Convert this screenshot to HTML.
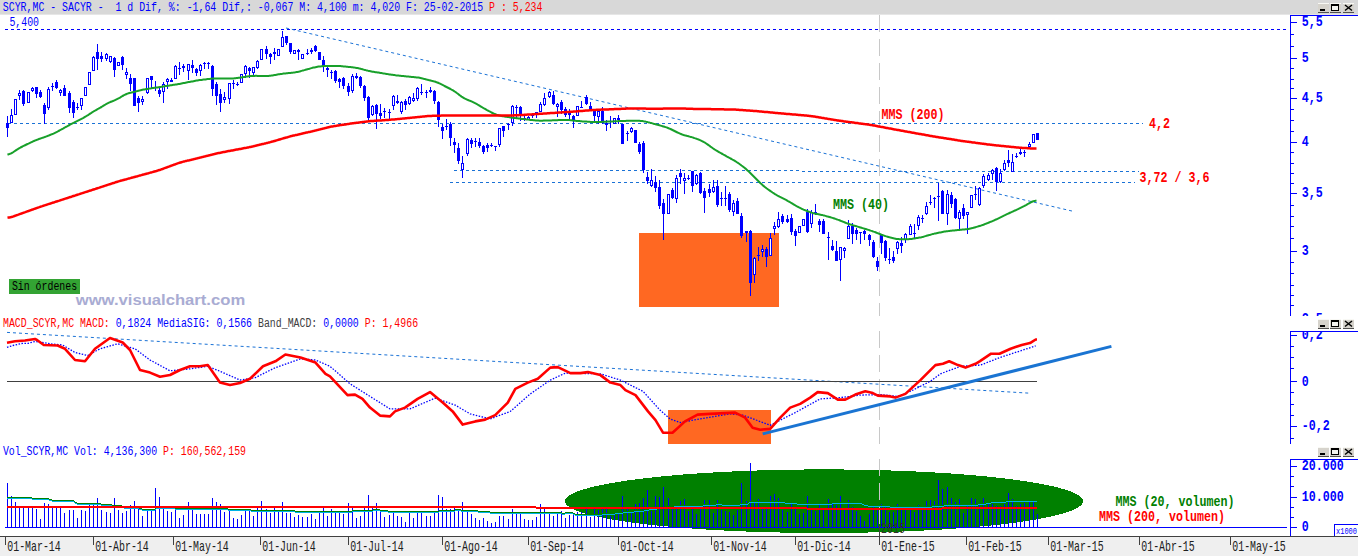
<!DOCTYPE html>
<html><head><meta charset="utf-8"><style>html,body{margin:0;padding:0;background:#fff;overflow:hidden}</style></head><body>
<svg width="1358" height="556" viewBox="0 0 1358 556" shape-rendering="crispEdges" style="display:block">
<rect x="0" y="0" width="1358" height="556" fill="#ffffff"/>
<rect x="0" y="0" width="1358" height="14" fill="#d8d8d8"/>
<rect x="0" y="14" width="1358" height="1" fill="#e6e6e6"/>
<line x1="879.5" y1="15" x2="879.5" y2="316" stroke="#c8c8c8" stroke-width="1" stroke-dasharray="17 7"/>
<line x1="879.5" y1="331" x2="879.5" y2="444" stroke="#c8c8c8" stroke-width="1" stroke-dasharray="17 7"/>
<rect x="639" y="233" width="140" height="74" fill="#ff6822"/>
<line x1="5" y1="29.5" x2="1287" y2="29.5" stroke="#0000ff" stroke-width="1" stroke-dasharray="3 3"/>
<line x1="8" y1="123.5" x2="1143" y2="123.5" stroke="#1a72d6" stroke-width="1" stroke-dasharray="3 3"/>
<line x1="454" y1="170.5" x2="1139" y2="171.5" stroke="#1a72d6" stroke-width="1" stroke-dasharray="3 3"/>
<line x1="450" y1="182.5" x2="1135" y2="182.5" stroke="#1a72d6" stroke-width="1" stroke-dasharray="3 3"/>
<line x1="286" y1="28" x2="1074" y2="211.5" stroke="#1a72d6" stroke-width="1" stroke-dasharray="3 3" shape-rendering="auto"/>
<g fill="#0000ff"><rect x="7" y="116" width="1" height="21"/><rect x="6" y="123" width="3" height="5"/><rect x="11" y="109" width="1" height="14"/><rect x="10" y="115" width="3" height="8"/><rect x="11" y="116" width="1" height="6" fill="#ffffff"/><rect x="15" y="99" width="1" height="16"/><rect x="14" y="99" width="3" height="16"/><rect x="15" y="100" width="1" height="14" fill="#ffffff"/><rect x="19" y="90" width="1" height="10"/><rect x="18" y="93" width="3" height="3"/><rect x="19" y="94" width="1" height="1" fill="#ffffff"/><rect x="23" y="90" width="1" height="16"/><rect x="22" y="91" width="3" height="13"/><rect x="28" y="92" width="1" height="11"/><rect x="27" y="92" width="3" height="11"/><rect x="28" y="93" width="1" height="9" fill="#ffffff"/><rect x="32" y="87" width="1" height="5"/><rect x="31" y="88" width="3" height="3"/><rect x="32" y="89" width="1" height="1" fill="#ffffff"/><rect x="36" y="87" width="1" height="11"/><rect x="35" y="87" width="3" height="7"/><rect x="40" y="90" width="1" height="8"/><rect x="39" y="92" width="3" height="5"/><rect x="44" y="103" width="1" height="21"/><rect x="43" y="105" width="3" height="9"/><rect x="48" y="87" width="1" height="23"/><rect x="47" y="89" width="3" height="19"/><rect x="48" y="90" width="1" height="17" fill="#ffffff"/><rect x="52" y="83" width="1" height="8"/><rect x="51" y="86" width="3" height="1"/><rect x="56" y="80" width="1" height="9"/><rect x="55" y="82" width="3" height="6"/><rect x="60" y="89" width="1" height="7"/><rect x="59" y="90" width="3" height="3"/><rect x="60" y="91" width="1" height="1" fill="#ffffff"/><rect x="64" y="85" width="1" height="11"/><rect x="63" y="88" width="3" height="8"/><rect x="69" y="91" width="1" height="22"/><rect x="68" y="93" width="3" height="15"/><rect x="73" y="100" width="1" height="18"/><rect x="72" y="102" width="3" height="11"/><rect x="77" y="103" width="1" height="7"/><rect x="76" y="107" width="3" height="1"/><rect x="81" y="98" width="1" height="12"/><rect x="80" y="98" width="3" height="8"/><rect x="81" y="99" width="1" height="6" fill="#ffffff"/><rect x="85" y="87" width="1" height="9"/><rect x="84" y="87" width="3" height="9"/><rect x="85" y="88" width="1" height="7" fill="#ffffff"/><rect x="89" y="72" width="1" height="13"/><rect x="88" y="72" width="3" height="13"/><rect x="89" y="73" width="1" height="11" fill="#ffffff"/><rect x="93" y="56" width="1" height="15"/><rect x="92" y="57" width="3" height="14"/><rect x="93" y="58" width="1" height="12" fill="#ffffff"/><rect x="97" y="44" width="1" height="26"/><rect x="96" y="52" width="3" height="7"/><rect x="101" y="52" width="1" height="10"/><rect x="100" y="56" width="3" height="3"/><rect x="106" y="53" width="1" height="8"/><rect x="105" y="54" width="3" height="5"/><rect x="106" y="55" width="1" height="3" fill="#ffffff"/><rect x="110" y="56" width="1" height="7"/><rect x="109" y="56" width="3" height="6"/><rect x="110" y="57" width="1" height="4" fill="#ffffff"/><rect x="114" y="57" width="1" height="20"/><rect x="113" y="58" width="3" height="12"/><rect x="118" y="62" width="1" height="4"/><rect x="117" y="62" width="3" height="4"/><rect x="118" y="63" width="1" height="2" fill="#ffffff"/><rect x="122" y="56" width="1" height="14"/><rect x="121" y="57" width="3" height="8"/><rect x="126" y="68" width="1" height="11"/><rect x="125" y="72" width="3" height="3"/><rect x="126" y="73" width="1" height="1" fill="#ffffff"/><rect x="130" y="74" width="1" height="17"/><rect x="129" y="78" width="3" height="6"/><rect x="134" y="78" width="1" height="28"/><rect x="133" y="78" width="3" height="28"/><rect x="138" y="96" width="1" height="16"/><rect x="137" y="98" width="3" height="5"/><rect x="142" y="96" width="1" height="9"/><rect x="141" y="99" width="3" height="3"/><rect x="142" y="100" width="1" height="1" fill="#ffffff"/><rect x="147" y="78" width="1" height="16"/><rect x="146" y="78" width="3" height="15"/><rect x="147" y="79" width="1" height="13" fill="#ffffff"/><rect x="151" y="76" width="1" height="12"/><rect x="150" y="76" width="3" height="4"/><rect x="155" y="81" width="1" height="10"/><rect x="154" y="87" width="3" height="1"/><rect x="159" y="88" width="1" height="9"/><rect x="158" y="90" width="3" height="4"/><rect x="163" y="82" width="1" height="21"/><rect x="162" y="84" width="3" height="8"/><rect x="163" y="85" width="1" height="6" fill="#ffffff"/><rect x="167" y="78" width="1" height="11"/><rect x="166" y="79" width="3" height="3"/><rect x="167" y="80" width="1" height="1" fill="#ffffff"/><rect x="171" y="78" width="1" height="4"/><rect x="170" y="80" width="3" height="2"/><rect x="175" y="65" width="1" height="14"/><rect x="174" y="66" width="3" height="13"/><rect x="175" y="67" width="1" height="11" fill="#ffffff"/><rect x="179" y="62" width="1" height="13"/><rect x="178" y="68" width="3" height="1"/><rect x="183" y="64" width="1" height="8"/><rect x="182" y="66" width="3" height="2"/><rect x="188" y="64" width="1" height="16"/><rect x="187" y="64" width="3" height="7"/><rect x="188" y="65" width="1" height="5" fill="#ffffff"/><rect x="192" y="60" width="1" height="13"/><rect x="191" y="65" width="3" height="3"/><rect x="196" y="68" width="1" height="8"/><rect x="195" y="69" width="3" height="4"/><rect x="200" y="64" width="1" height="12"/><rect x="199" y="65" width="3" height="6"/><rect x="200" y="66" width="1" height="4" fill="#ffffff"/><rect x="204" y="62" width="1" height="7"/><rect x="203" y="63" width="3" height="1"/><rect x="208" y="62" width="1" height="7"/><rect x="207" y="63" width="3" height="1"/><rect x="212" y="65" width="1" height="31"/><rect x="211" y="66" width="3" height="23"/><rect x="216" y="82" width="1" height="23"/><rect x="215" y="84" width="3" height="12"/><rect x="220" y="89" width="1" height="23"/><rect x="219" y="94" width="3" height="9"/><rect x="224" y="92" width="1" height="11"/><rect x="223" y="97" width="3" height="3"/><rect x="224" y="98" width="1" height="1" fill="#ffffff"/><rect x="229" y="83" width="1" height="21"/><rect x="228" y="83" width="3" height="16"/><rect x="229" y="84" width="1" height="14" fill="#ffffff"/><rect x="233" y="80" width="1" height="9"/><rect x="232" y="83" width="3" height="1"/><rect x="237" y="82" width="1" height="4"/><rect x="236" y="84" width="3" height="1"/><rect x="241" y="74" width="1" height="9"/><rect x="240" y="74" width="3" height="9"/><rect x="241" y="75" width="1" height="7" fill="#ffffff"/><rect x="245" y="65" width="1" height="13"/><rect x="244" y="66" width="3" height="8"/><rect x="245" y="67" width="1" height="6" fill="#ffffff"/><rect x="249" y="67" width="1" height="11"/><rect x="248" y="68" width="3" height="3"/><rect x="253" y="67" width="1" height="8"/><rect x="252" y="67" width="3" height="6"/><rect x="253" y="68" width="1" height="4" fill="#ffffff"/><rect x="257" y="60" width="1" height="9"/><rect x="256" y="61" width="3" height="7"/><rect x="257" y="62" width="1" height="5" fill="#ffffff"/><rect x="261" y="49" width="1" height="11"/><rect x="260" y="49" width="3" height="11"/><rect x="261" y="50" width="1" height="9" fill="#ffffff"/><rect x="266" y="46" width="1" height="13"/><rect x="265" y="49" width="3" height="5"/><rect x="270" y="53" width="1" height="11"/><rect x="269" y="54" width="3" height="3"/><rect x="274" y="48" width="1" height="12"/><rect x="273" y="52" width="3" height="2"/><rect x="278" y="49" width="1" height="7"/><rect x="277" y="49" width="3" height="7"/><rect x="278" y="50" width="1" height="5" fill="#ffffff"/><rect x="282" y="31" width="1" height="16"/><rect x="281" y="37" width="3" height="10"/><rect x="282" y="38" width="1" height="8" fill="#ffffff"/><rect x="286" y="36" width="1" height="9"/><rect x="285" y="36" width="3" height="7"/><rect x="290" y="43" width="1" height="11"/><rect x="289" y="43" width="3" height="9"/><rect x="294" y="50" width="1" height="4"/><rect x="293" y="50" width="3" height="4"/><rect x="294" y="51" width="1" height="2" fill="#ffffff"/><rect x="298" y="49" width="1" height="11"/><rect x="297" y="50" width="3" height="2"/><rect x="302" y="54" width="1" height="5"/><rect x="301" y="54" width="3" height="5"/><rect x="302" y="55" width="1" height="3" fill="#ffffff"/><rect x="307" y="49" width="1" height="6"/><rect x="306" y="53" width="3" height="1"/><rect x="311" y="48" width="1" height="6"/><rect x="310" y="50" width="3" height="2"/><rect x="315" y="45" width="1" height="7"/><rect x="314" y="46" width="3" height="5"/><rect x="319" y="52" width="1" height="8"/><rect x="318" y="52" width="3" height="8"/><rect x="323" y="56" width="1" height="16"/><rect x="322" y="60" width="3" height="6"/><rect x="327" y="67" width="1" height="10"/><rect x="326" y="68" width="3" height="2"/><rect x="331" y="70" width="1" height="9"/><rect x="330" y="72" width="3" height="1"/><rect x="335" y="70" width="1" height="13"/><rect x="334" y="71" width="3" height="10"/><rect x="339" y="78" width="1" height="10"/><rect x="338" y="79" width="3" height="3"/><rect x="343" y="77" width="1" height="12"/><rect x="342" y="78" width="3" height="8"/><rect x="348" y="83" width="1" height="13"/><rect x="347" y="86" width="3" height="6"/><rect x="352" y="74" width="1" height="19"/><rect x="351" y="76" width="3" height="15"/><rect x="352" y="77" width="1" height="13" fill="#ffffff"/><rect x="356" y="73" width="1" height="6"/><rect x="355" y="76" width="3" height="2"/><rect x="360" y="76" width="1" height="12"/><rect x="359" y="77" width="3" height="9"/><rect x="364" y="85" width="1" height="16"/><rect x="363" y="86" width="3" height="12"/><rect x="368" y="96" width="1" height="24"/><rect x="367" y="97" width="3" height="21"/><rect x="372" y="105" width="1" height="11"/><rect x="371" y="106" width="3" height="9"/><rect x="372" y="107" width="1" height="7" fill="#ffffff"/><rect x="376" y="104" width="1" height="25"/><rect x="375" y="105" width="3" height="9"/><rect x="380" y="104" width="1" height="15"/><rect x="379" y="113" width="3" height="3"/><rect x="384" y="108" width="1" height="10"/><rect x="383" y="111" width="3" height="1"/><rect x="389" y="109" width="1" height="10"/><rect x="388" y="112" width="3" height="1"/><rect x="393" y="95" width="1" height="15"/><rect x="392" y="96" width="3" height="10"/><rect x="393" y="97" width="1" height="8" fill="#ffffff"/><rect x="397" y="95" width="1" height="9"/><rect x="396" y="101" width="3" height="2"/><rect x="401" y="101" width="1" height="13"/><rect x="400" y="102" width="3" height="10"/><rect x="401" y="103" width="1" height="8" fill="#ffffff"/><rect x="405" y="99" width="1" height="11"/><rect x="404" y="101" width="3" height="4"/><rect x="409" y="96" width="1" height="9"/><rect x="408" y="97" width="3" height="7"/><rect x="409" y="98" width="1" height="5" fill="#ffffff"/><rect x="413" y="93" width="1" height="9"/><rect x="412" y="98" width="3" height="3"/><rect x="413" y="99" width="1" height="1" fill="#ffffff"/><rect x="417" y="87" width="1" height="14"/><rect x="416" y="88" width="3" height="11"/><rect x="417" y="89" width="1" height="9" fill="#ffffff"/><rect x="421" y="84" width="1" height="11"/><rect x="420" y="92" width="3" height="1"/><rect x="426" y="90" width="1" height="8"/><rect x="425" y="92" width="3" height="1"/><rect x="430" y="87" width="1" height="6"/><rect x="429" y="90" width="3" height="2"/><rect x="434" y="90" width="1" height="14"/><rect x="433" y="91" width="3" height="10"/><rect x="438" y="101" width="1" height="26"/><rect x="437" y="102" width="3" height="18"/><rect x="442" y="124" width="1" height="15"/><rect x="441" y="127" width="3" height="4"/><rect x="446" y="119" width="1" height="11"/><rect x="445" y="126" width="3" height="1"/><rect x="450" y="122" width="1" height="24"/><rect x="449" y="124" width="3" height="14"/><rect x="454" y="138" width="1" height="15"/><rect x="453" y="142" width="3" height="3"/><rect x="458" y="143" width="1" height="21"/><rect x="457" y="148" width="3" height="13"/><rect x="462" y="156" width="1" height="22"/><rect x="461" y="163" width="3" height="7"/><rect x="462" y="164" width="1" height="5" fill="#ffffff"/><rect x="467" y="138" width="1" height="18"/><rect x="466" y="139" width="3" height="15"/><rect x="467" y="140" width="1" height="13" fill="#ffffff"/><rect x="471" y="138" width="1" height="10"/><rect x="470" y="140" width="3" height="4"/><rect x="475" y="138" width="1" height="9"/><rect x="474" y="141" width="3" height="1"/><rect x="479" y="138" width="1" height="10"/><rect x="478" y="142" width="3" height="4"/><rect x="483" y="145" width="1" height="9"/><rect x="482" y="146" width="3" height="6"/><rect x="487" y="143" width="1" height="9"/><rect x="486" y="145" width="3" height="3"/><rect x="491" y="143" width="1" height="4"/><rect x="490" y="145" width="3" height="1"/><rect x="495" y="146" width="1" height="5"/><rect x="494" y="146" width="3" height="1"/><rect x="499" y="128" width="1" height="19"/><rect x="498" y="128" width="3" height="17"/><rect x="499" y="129" width="1" height="15" fill="#ffffff"/><rect x="503" y="126" width="1" height="11"/><rect x="502" y="126" width="3" height="5"/><rect x="508" y="123" width="1" height="7"/><rect x="507" y="124" width="3" height="1"/><rect x="512" y="105" width="1" height="21"/><rect x="511" y="106" width="3" height="17"/><rect x="512" y="107" width="1" height="15" fill="#ffffff"/><rect x="516" y="105" width="1" height="13"/><rect x="515" y="107" width="3" height="1"/><rect x="520" y="106" width="1" height="15"/><rect x="519" y="107" width="3" height="9"/><rect x="524" y="116" width="1" height="5"/><rect x="523" y="118" width="3" height="1"/><rect x="528" y="116" width="1" height="4"/><rect x="527" y="117" width="3" height="3"/><rect x="528" y="118" width="1" height="1" fill="#ffffff"/><rect x="532" y="113" width="1" height="5"/><rect x="531" y="115" width="3" height="1"/><rect x="536" y="112" width="1" height="6"/><rect x="535" y="112" width="3" height="1"/><rect x="540" y="102" width="1" height="10"/><rect x="539" y="104" width="3" height="8"/><rect x="540" y="105" width="1" height="6" fill="#ffffff"/><rect x="544" y="93" width="1" height="13"/><rect x="543" y="98" width="3" height="7"/><rect x="544" y="99" width="1" height="5" fill="#ffffff"/><rect x="549" y="91" width="1" height="7"/><rect x="548" y="92" width="3" height="5"/><rect x="549" y="93" width="1" height="3" fill="#ffffff"/><rect x="553" y="91" width="1" height="14"/><rect x="552" y="95" width="3" height="9"/><rect x="557" y="103" width="1" height="14"/><rect x="556" y="104" width="3" height="3"/><rect x="557" y="105" width="1" height="1" fill="#ffffff"/><rect x="561" y="100" width="1" height="14"/><rect x="560" y="102" width="3" height="8"/><rect x="565" y="107" width="1" height="10"/><rect x="564" y="109" width="3" height="6"/><rect x="569" y="109" width="1" height="10"/><rect x="568" y="113" width="3" height="2"/><rect x="573" y="115" width="1" height="13"/><rect x="572" y="116" width="3" height="4"/><rect x="577" y="106" width="1" height="10"/><rect x="576" y="106" width="3" height="10"/><rect x="577" y="107" width="1" height="8" fill="#ffffff"/><rect x="581" y="101" width="1" height="7"/><rect x="580" y="107" width="3" height="1"/><rect x="586" y="95" width="1" height="10"/><rect x="585" y="97" width="3" height="7"/><rect x="590" y="102" width="1" height="8"/><rect x="589" y="106" width="3" height="3"/><rect x="594" y="110" width="1" height="11"/><rect x="593" y="111" width="3" height="5"/><rect x="598" y="110" width="1" height="14"/><rect x="597" y="111" width="3" height="6"/><rect x="598" y="112" width="1" height="4" fill="#ffffff"/><rect x="602" y="107" width="1" height="17"/><rect x="601" y="111" width="3" height="12"/><rect x="606" y="120" width="1" height="11"/><rect x="605" y="123" width="3" height="2"/><rect x="610" y="116" width="1" height="12"/><rect x="609" y="121" width="3" height="1"/><rect x="614" y="118" width="1" height="6"/><rect x="613" y="118" width="3" height="6"/><rect x="614" y="119" width="1" height="4" fill="#ffffff"/><rect x="618" y="115" width="1" height="9"/><rect x="617" y="118" width="3" height="2"/><rect x="622" y="124" width="1" height="20"/><rect x="621" y="124" width="3" height="20"/><rect x="627" y="131" width="1" height="10"/><rect x="626" y="133" width="3" height="1"/><rect x="631" y="127" width="1" height="6"/><rect x="630" y="128" width="3" height="4"/><rect x="631" y="129" width="1" height="2" fill="#ffffff"/><rect x="635" y="130" width="1" height="13"/><rect x="634" y="130" width="3" height="13"/><rect x="639" y="142" width="1" height="12"/><rect x="638" y="144" width="3" height="8"/><rect x="643" y="141" width="1" height="32"/><rect x="642" y="143" width="3" height="27"/><rect x="647" y="172" width="1" height="12"/><rect x="646" y="177" width="3" height="4"/><rect x="651" y="169" width="1" height="18"/><rect x="650" y="180" width="3" height="6"/><rect x="651" y="181" width="1" height="4" fill="#ffffff"/><rect x="655" y="176" width="1" height="16"/><rect x="654" y="182" width="3" height="6"/><rect x="659" y="180" width="1" height="29"/><rect x="658" y="187" width="3" height="19"/><rect x="663" y="199" width="1" height="41"/><rect x="662" y="203" width="3" height="11"/><rect x="668" y="194" width="1" height="20"/><rect x="667" y="194" width="3" height="20"/><rect x="668" y="195" width="1" height="18" fill="#ffffff"/><rect x="672" y="188" width="1" height="11"/><rect x="671" y="190" width="3" height="8"/><rect x="676" y="175" width="1" height="28"/><rect x="675" y="178" width="3" height="21"/><rect x="676" y="179" width="1" height="19" fill="#ffffff"/><rect x="680" y="169" width="1" height="15"/><rect x="679" y="173" width="3" height="4"/><rect x="684" y="173" width="1" height="21"/><rect x="683" y="178" width="3" height="3"/><rect x="684" y="179" width="1" height="1" fill="#ffffff"/><rect x="688" y="175" width="1" height="5"/><rect x="687" y="178" width="3" height="1"/><rect x="692" y="171" width="1" height="21"/><rect x="691" y="171" width="3" height="15"/><rect x="696" y="174" width="1" height="11"/><rect x="695" y="175" width="3" height="9"/><rect x="696" y="176" width="1" height="7" fill="#ffffff"/><rect x="700" y="172" width="1" height="22"/><rect x="699" y="173" width="3" height="20"/><rect x="704" y="188" width="1" height="25"/><rect x="703" y="191" width="3" height="7"/><rect x="709" y="184" width="1" height="13"/><rect x="708" y="189" width="3" height="4"/><rect x="713" y="180" width="1" height="13"/><rect x="712" y="187" width="3" height="5"/><rect x="713" y="188" width="1" height="3" fill="#ffffff"/><rect x="717" y="180" width="1" height="27"/><rect x="716" y="186" width="3" height="19"/><rect x="721" y="192" width="1" height="14"/><rect x="720" y="198" width="3" height="1"/><rect x="725" y="186" width="1" height="20"/><rect x="724" y="198" width="3" height="1"/><rect x="729" y="192" width="1" height="20"/><rect x="728" y="194" width="3" height="16"/><rect x="733" y="200" width="1" height="16"/><rect x="732" y="203" width="3" height="9"/><rect x="733" y="204" width="1" height="7" fill="#ffffff"/><rect x="737" y="198" width="1" height="16"/><rect x="736" y="201" width="3" height="13"/><rect x="741" y="213" width="1" height="25"/><rect x="740" y="216" width="3" height="20"/><rect x="746" y="231" width="1" height="11"/><rect x="745" y="231" width="3" height="2"/><rect x="750" y="230" width="1" height="66"/><rect x="749" y="231" width="3" height="52"/><rect x="754" y="257" width="1" height="26"/><rect x="753" y="258" width="3" height="17"/><rect x="754" y="259" width="1" height="15" fill="#ffffff"/><rect x="758" y="247" width="1" height="14"/><rect x="757" y="255" width="3" height="1"/><rect x="762" y="245" width="1" height="12"/><rect x="761" y="249" width="3" height="3"/><rect x="762" y="250" width="1" height="1" fill="#ffffff"/><rect x="766" y="247" width="1" height="20"/><rect x="765" y="249" width="3" height="8"/><rect x="770" y="233" width="1" height="23"/><rect x="769" y="238" width="3" height="18"/><rect x="770" y="239" width="1" height="16" fill="#ffffff"/><rect x="774" y="222" width="1" height="13"/><rect x="773" y="226" width="3" height="3"/><rect x="774" y="227" width="1" height="1" fill="#ffffff"/><rect x="778" y="212" width="1" height="16"/><rect x="777" y="219" width="3" height="8"/><rect x="778" y="220" width="1" height="6" fill="#ffffff"/><rect x="782" y="214" width="1" height="10"/><rect x="781" y="216" width="3" height="6"/><rect x="787" y="215" width="1" height="8"/><rect x="786" y="219" width="3" height="3"/><rect x="791" y="214" width="1" height="21"/><rect x="790" y="218" width="3" height="14"/><rect x="795" y="229" width="1" height="17"/><rect x="794" y="231" width="3" height="5"/><rect x="799" y="226" width="1" height="7"/><rect x="798" y="226" width="3" height="7"/><rect x="799" y="227" width="1" height="5" fill="#ffffff"/><rect x="803" y="219" width="1" height="7"/><rect x="802" y="219" width="3" height="7"/><rect x="803" y="220" width="1" height="5" fill="#ffffff"/><rect x="807" y="209" width="1" height="24"/><rect x="806" y="212" width="3" height="20"/><rect x="811" y="210" width="1" height="18"/><rect x="810" y="212" width="3" height="12"/><rect x="811" y="213" width="1" height="10" fill="#ffffff"/><rect x="815" y="204" width="1" height="11"/><rect x="814" y="212" width="3" height="1"/><rect x="819" y="219" width="1" height="13"/><rect x="818" y="221" width="3" height="4"/><rect x="823" y="219" width="1" height="15"/><rect x="822" y="221" width="3" height="13"/><rect x="828" y="232" width="1" height="28"/><rect x="827" y="237" width="3" height="1"/><rect x="832" y="240" width="1" height="11"/><rect x="831" y="246" width="3" height="4"/><rect x="836" y="241" width="1" height="20"/><rect x="835" y="251" width="3" height="10"/><rect x="840" y="247" width="1" height="34"/><rect x="839" y="247" width="3" height="13"/><rect x="840" y="248" width="1" height="11" fill="#ffffff"/><rect x="844" y="247" width="1" height="11"/><rect x="843" y="248" width="3" height="3"/><rect x="844" y="249" width="1" height="1" fill="#ffffff"/><rect x="848" y="220" width="1" height="19"/><rect x="847" y="226" width="3" height="13"/><rect x="848" y="227" width="1" height="11" fill="#ffffff"/><rect x="852" y="223" width="1" height="21"/><rect x="851" y="226" width="3" height="8"/><rect x="856" y="228" width="1" height="12"/><rect x="855" y="230" width="3" height="4"/><rect x="860" y="232" width="1" height="12"/><rect x="859" y="232" width="3" height="1"/><rect x="864" y="230" width="1" height="10"/><rect x="863" y="231" width="3" height="3"/><rect x="869" y="234" width="1" height="12"/><rect x="868" y="235" width="3" height="5"/><rect x="873" y="240" width="1" height="18"/><rect x="872" y="242" width="3" height="15"/><rect x="877" y="257" width="1" height="14"/><rect x="876" y="261" width="3" height="6"/><rect x="881" y="234" width="1" height="20"/><rect x="880" y="235" width="3" height="8"/><rect x="885" y="240" width="1" height="21"/><rect x="884" y="241" width="3" height="17"/><rect x="889" y="248" width="1" height="16"/><rect x="888" y="259" width="3" height="1"/><rect x="893" y="251" width="1" height="12"/><rect x="892" y="257" width="3" height="4"/><rect x="897" y="241" width="1" height="13"/><rect x="896" y="242" width="3" height="7"/><rect x="897" y="243" width="1" height="5" fill="#ffffff"/><rect x="901" y="237" width="1" height="16"/><rect x="900" y="243" width="3" height="3"/><rect x="905" y="233" width="1" height="10"/><rect x="904" y="234" width="3" height="6"/><rect x="905" y="235" width="1" height="4" fill="#ffffff"/><rect x="910" y="224" width="1" height="11"/><rect x="909" y="226" width="3" height="9"/><rect x="910" y="227" width="1" height="7" fill="#ffffff"/><rect x="914" y="224" width="1" height="15"/><rect x="913" y="233" width="3" height="1"/><rect x="918" y="215" width="1" height="15"/><rect x="917" y="217" width="3" height="9"/><rect x="918" y="218" width="1" height="7" fill="#ffffff"/><rect x="922" y="215" width="1" height="8"/><rect x="921" y="218" width="3" height="1"/><rect x="926" y="202" width="1" height="13"/><rect x="925" y="206" width="3" height="8"/><rect x="926" y="207" width="1" height="6" fill="#ffffff"/><rect x="930" y="195" width="1" height="10"/><rect x="929" y="202" width="3" height="1"/><rect x="934" y="197" width="1" height="11"/><rect x="933" y="198" width="3" height="1"/><rect x="938" y="183" width="1" height="38"/><rect x="937" y="196" width="3" height="1"/><rect x="942" y="190" width="1" height="24"/><rect x="941" y="191" width="3" height="23"/><rect x="947" y="190" width="1" height="35"/><rect x="946" y="194" width="3" height="20"/><rect x="947" y="195" width="1" height="18" fill="#ffffff"/><rect x="951" y="192" width="1" height="16"/><rect x="950" y="195" width="3" height="9"/><rect x="955" y="198" width="1" height="21"/><rect x="954" y="199" width="3" height="19"/><rect x="959" y="210" width="1" height="19"/><rect x="958" y="212" width="3" height="7"/><rect x="959" y="213" width="1" height="5" fill="#ffffff"/><rect x="963" y="204" width="1" height="15"/><rect x="962" y="208" width="3" height="8"/><rect x="967" y="212" width="1" height="22"/><rect x="966" y="212" width="3" height="3"/><rect x="967" y="213" width="1" height="1" fill="#ffffff"/><rect x="971" y="195" width="1" height="13"/><rect x="970" y="195" width="3" height="13"/><rect x="971" y="196" width="1" height="11" fill="#ffffff"/><rect x="975" y="186" width="1" height="14"/><rect x="974" y="194" width="3" height="1"/><rect x="979" y="187" width="1" height="19"/><rect x="978" y="188" width="3" height="17"/><rect x="979" y="189" width="1" height="15" fill="#ffffff"/><rect x="983" y="174" width="1" height="14"/><rect x="982" y="176" width="3" height="10"/><rect x="983" y="177" width="1" height="8" fill="#ffffff"/><rect x="988" y="173" width="1" height="8"/><rect x="987" y="175" width="3" height="5"/><rect x="988" y="176" width="1" height="3" fill="#ffffff"/><rect x="992" y="169" width="1" height="11"/><rect x="991" y="170" width="3" height="4"/><rect x="992" y="171" width="1" height="2" fill="#ffffff"/><rect x="996" y="167" width="1" height="24"/><rect x="995" y="168" width="3" height="14"/><rect x="1000" y="169" width="1" height="14"/><rect x="999" y="173" width="3" height="9"/><rect x="1000" y="174" width="1" height="7" fill="#ffffff"/><rect x="1004" y="160" width="1" height="11"/><rect x="1003" y="163" width="3" height="7"/><rect x="1004" y="164" width="1" height="5" fill="#ffffff"/><rect x="1008" y="150" width="1" height="17"/><rect x="1007" y="160" width="3" height="3"/><rect x="1012" y="154" width="1" height="18"/><rect x="1011" y="162" width="3" height="10"/><rect x="1012" y="163" width="1" height="8" fill="#ffffff"/><rect x="1016" y="153" width="1" height="5"/><rect x="1015" y="156" width="3" height="1"/><rect x="1020" y="149" width="1" height="6"/><rect x="1019" y="152" width="3" height="2"/><rect x="1024" y="150" width="1" height="7"/><rect x="1023" y="152" width="3" height="1"/><rect x="1029" y="142" width="1" height="6"/><rect x="1028" y="144" width="3" height="3"/><rect x="1029" y="145" width="1" height="1" fill="#ffffff"/><rect x="1033" y="134" width="1" height="9"/><rect x="1032" y="134" width="3" height="9"/><rect x="1033" y="135" width="1" height="7" fill="#ffffff"/><rect x="1037" y="133" width="1" height="7"/><rect x="1036" y="133" width="3" height="7"/></g>
<polyline points="7.5,154.7 8.5,154.3 9.5,154.0 10.5,153.6 11.5,153.3 12.5,152.6 13.5,152.0 14.5,151.3 15.5,150.6 16.5,149.9 17.5,149.3 18.5,148.7 19.5,148.1 20.5,147.5 21.5,147.0 22.5,146.5 23.5,145.9 24.5,145.5 25.5,145.0 26.5,144.5 27.5,144.0 28.5,143.6 29.5,143.1 30.5,142.6 31.5,142.1 32.5,141.7 33.5,141.2 34.5,140.8 35.5,140.4 36.5,140.0 37.5,139.6 38.5,139.2 39.5,138.8 40.5,138.5 41.5,138.1 42.5,137.8 43.5,137.5 44.5,137.1 45.5,136.7 46.5,136.4 47.5,136.0 48.5,135.6 49.5,135.2 50.5,134.8 51.5,134.4 52.5,134.0 53.5,133.6 54.5,133.1 55.5,132.6 56.5,132.1 57.5,131.6 58.5,131.0 59.5,130.5 60.5,129.9 61.5,129.4 62.5,128.8 63.5,128.3 64.5,127.7 65.5,127.2 66.5,126.6 67.5,126.1 68.5,125.5 69.5,125.0 70.5,124.4 71.5,123.9 72.5,123.4 73.5,122.9 74.5,122.4 75.5,121.8 76.5,121.3 77.5,120.8 78.5,120.3 79.5,119.8 80.5,119.3 81.5,118.8 82.5,118.3 83.5,117.8 84.5,117.2 85.5,116.6 86.5,116.0 87.5,115.4 88.5,114.8 89.5,114.1 90.5,113.4 91.5,112.8 92.5,112.1 93.5,111.5 94.5,110.9 95.5,110.4 96.5,109.8 97.5,109.2 98.5,108.7 99.5,108.1 100.5,107.5 101.5,107.0 102.5,106.3 103.5,105.7 104.5,105.1 105.5,104.5 106.5,103.9 107.5,103.4 108.5,102.9 109.5,102.4 110.5,102.0 111.5,101.5 112.5,101.2 113.5,100.8 114.5,100.4 115.5,99.9 116.5,99.4 117.5,98.9 118.5,98.4 119.5,97.9 120.5,97.3 121.5,96.6 122.5,96.0 123.5,95.5 124.5,94.9 125.5,94.5 126.5,94.0 127.5,93.6 128.5,93.3 129.5,93.0 130.5,92.7 131.5,92.5 132.5,92.2 133.5,92.0 134.5,91.7 135.5,91.5 136.5,91.2 137.5,91.0 138.5,90.7 139.5,90.5 140.5,90.3 141.5,90.0 142.5,89.8 143.5,89.6 144.5,89.4 145.5,89.2 146.5,89.0 147.5,88.9 148.5,88.7 149.5,88.6 150.5,88.4 151.5,88.3 152.5,88.1 153.5,88.0 154.5,87.8 155.5,87.7 156.5,87.5 157.5,87.4 158.5,87.2 159.5,87.1 160.5,86.9 161.5,86.8 162.5,86.6 163.5,86.5 164.5,86.3 165.5,86.1 166.5,86.0 167.5,85.8 168.5,85.7 169.5,85.5 170.5,85.3 171.5,85.2 172.5,85.0 173.5,84.8 174.5,84.7 175.5,84.5 176.5,84.4 177.5,84.2 178.5,84.0 179.5,83.9 180.5,83.7 181.5,83.5 182.5,83.3 183.5,83.1 184.5,82.9 185.5,82.7 186.5,82.5 187.5,82.3 188.5,82.1 189.5,82.0 190.5,81.8 191.5,81.6 192.5,81.4 193.5,81.2 194.5,81.0 195.5,80.8 196.5,80.6 197.5,80.5 198.5,80.3 199.5,80.1 200.5,80.0 201.5,79.9 202.5,79.7 203.5,79.6 204.5,79.5 205.5,79.4 206.5,79.2 207.5,79.1 208.5,79.0 209.5,78.9 210.5,78.8 211.5,78.7 212.5,78.6 213.5,78.6 214.5,78.5 215.5,78.5 216.5,78.5 217.5,78.5 218.5,78.5 219.5,78.5 220.5,78.5 221.5,78.5 222.5,78.5 223.5,78.5 224.5,78.5 225.5,78.5 226.5,78.5 227.5,78.5 228.5,78.5 229.5,78.5 230.5,78.5 231.5,78.5 232.5,78.4 233.5,78.4 234.5,78.3 235.5,78.2 236.5,78.1 237.5,78.0 238.5,77.8 239.5,77.7 240.5,77.5 241.5,77.4 242.5,77.2 243.5,77.1 244.5,76.9 245.5,76.8 246.5,76.6 247.5,76.5 248.5,76.3 249.5,76.2 250.5,76.1 251.5,76.0 252.5,75.9 253.5,75.9 254.5,75.9 255.5,75.8 256.5,75.8 257.5,75.9 258.5,75.9 259.5,75.9 260.5,75.9 261.5,75.9 262.5,75.9 263.5,75.9 264.5,75.9 265.5,75.9 266.5,75.9 267.5,75.9 268.5,75.9 269.5,75.8 270.5,75.7 271.5,75.6 272.5,75.5 273.5,75.3 274.5,75.1 275.5,74.9 276.5,74.7 277.5,74.5 278.5,74.3 279.5,74.2 280.5,74.0 281.5,73.9 282.5,73.8 283.5,73.6 284.5,73.5 285.5,73.4 286.5,73.3 287.5,73.2 288.5,73.1 289.5,73.0 290.5,72.9 291.5,72.8 292.5,72.7 293.5,72.6 294.5,72.4 295.5,72.3 296.5,72.1 297.5,71.9 298.5,71.7 299.5,71.5 300.5,71.2 301.5,70.9 302.5,70.6 303.5,70.4 304.5,70.1 305.5,69.8 306.5,69.5 307.5,69.2 308.5,68.9 309.5,68.7 310.5,68.4 311.5,68.1 312.5,67.8 313.5,67.6 314.5,67.4 315.5,67.2 316.5,67.0 317.5,66.8 318.5,66.6 319.5,66.5 320.5,66.4 321.5,66.3 322.5,66.2 323.5,66.1 324.5,66.0 325.5,66.0 326.5,65.9 327.5,65.9 328.5,65.9 329.5,65.9 330.5,65.9 331.5,65.9 332.5,65.9 333.5,65.9 334.5,65.9 335.5,65.9 336.5,65.9 337.5,66.0 338.5,66.0 339.5,66.1 340.5,66.1 341.5,66.2 342.5,66.3 343.5,66.4 344.5,66.5 345.5,66.6 346.5,66.7 347.5,66.8 348.5,66.9 349.5,67.0 350.5,67.1 351.5,67.2 352.5,67.3 353.5,67.4 354.5,67.6 355.5,67.7 356.5,67.9 357.5,68.1 358.5,68.3 359.5,68.6 360.5,68.8 361.5,69.1 362.5,69.3 363.5,69.6 364.5,69.9 365.5,70.1 366.5,70.4 367.5,70.6 368.5,70.9 369.5,71.1 370.5,71.3 371.5,71.5 372.5,71.7 373.5,71.8 374.5,72.0 375.5,72.2 376.5,72.3 377.5,72.5 378.5,72.6 379.5,72.8 380.5,73.0 381.5,73.1 382.5,73.3 383.5,73.4 384.5,73.6 385.5,73.7 386.5,73.9 387.5,74.1 388.5,74.2 389.5,74.4 390.5,74.5 391.5,74.7 392.5,74.8 393.5,75.0 394.5,75.1 395.5,75.3 396.5,75.4 397.5,75.5 398.5,75.6 399.5,75.7 400.5,75.8 401.5,75.9 402.5,76.0 403.5,76.1 404.5,76.2 405.5,76.3 406.5,76.4 407.5,76.5 408.5,76.6 409.5,76.7 410.5,76.8 411.5,76.9 412.5,77.0 413.5,77.1 414.5,77.2 415.5,77.3 416.5,77.4 417.5,77.5 418.5,77.6 419.5,77.8 420.5,78.0 421.5,78.2 422.5,78.4 423.5,78.7 424.5,78.9 425.5,79.2 426.5,79.5 427.5,79.7 428.5,80.0 429.5,80.2 430.5,80.5 431.5,80.8 432.5,81.0 433.5,81.3 434.5,81.5 435.5,81.8 436.5,82.2 437.5,82.5 438.5,83.0 439.5,83.4 440.5,83.9 441.5,84.4 442.5,84.9 443.5,85.4 444.5,86.0 445.5,86.5 446.5,87.0 447.5,87.5 448.5,88.0 449.5,88.5 450.5,89.0 451.5,89.6 452.5,90.1 453.5,90.7 454.5,91.4 455.5,92.0 456.5,92.8 457.5,93.5 458.5,94.3 459.5,95.1 460.5,95.8 461.5,96.6 462.5,97.2 463.5,97.8 464.5,98.4 465.5,98.9 466.5,99.3 467.5,99.8 468.5,100.2 469.5,100.6 470.5,101.0 471.5,101.4 472.5,101.9 473.5,102.4 474.5,102.9 475.5,103.4 476.5,103.9 477.5,104.5 478.5,105.1 479.5,105.7 480.5,106.3 481.5,106.9 482.5,107.5 483.5,108.1 484.5,108.6 485.5,109.2 486.5,109.8 487.5,110.3 488.5,110.9 489.5,111.4 490.5,111.9 491.5,112.5 492.5,113.0 493.5,113.5 494.5,113.9 495.5,114.3 496.5,114.7 497.5,115.0 498.5,115.3 499.5,115.6 500.5,115.8 501.5,116.0 502.5,116.2 503.5,116.3 504.5,116.5 505.5,116.7 506.5,116.8 507.5,117.0 508.5,117.1 509.5,117.2 510.5,117.4 511.5,117.5 512.5,117.7 513.5,117.8 514.5,117.9 515.5,118.1 516.5,118.2 517.5,118.3 518.5,118.5 519.5,118.6 520.5,118.7 521.5,118.9 522.5,119.0 523.5,119.1 524.5,119.2 525.5,119.3 526.5,119.4 527.5,119.5 528.5,119.6 529.5,119.8 530.5,119.9 531.5,120.0 532.5,120.1 533.5,120.2 534.5,120.3 535.5,120.4 536.5,120.5 537.5,120.6 538.5,120.6 539.5,120.7 540.5,120.7 541.5,120.7 542.5,120.7 543.5,120.6 544.5,120.6 545.5,120.6 546.5,120.5 547.5,120.5 548.5,120.5 549.5,120.4 550.5,120.4 551.5,120.4 552.5,120.3 553.5,120.3 554.5,120.3 555.5,120.2 556.5,120.2 557.5,120.2 558.5,120.1 559.5,120.1 560.5,120.1 561.5,120.0 562.5,120.0 563.5,120.0 564.5,119.9 565.5,119.9 566.5,119.9 567.5,120.0 568.5,120.0 569.5,120.1 570.5,120.2 571.5,120.3 572.5,120.4 573.5,120.6 574.5,120.7 575.5,120.8 576.5,120.9 577.5,121.0 578.5,121.1 579.5,121.1 580.5,121.2 581.5,121.3 582.5,121.4 583.5,121.4 584.5,121.5 585.5,121.6 586.5,121.6 587.5,121.7 588.5,121.8 589.5,121.8 590.5,121.9 591.5,122.0 592.5,122.0 593.5,122.1 594.5,122.1 595.5,122.1 596.5,122.1 597.5,122.1 598.5,122.0 599.5,122.0 600.5,121.9 601.5,121.9 602.5,121.8 603.5,121.8 604.5,121.8 605.5,121.7 606.5,121.7 607.5,121.6 608.5,121.6 609.5,121.5 610.5,121.5 611.5,121.5 612.5,121.4 613.5,121.4 614.5,121.3 615.5,121.3 616.5,121.2 617.5,121.2 618.5,121.1 619.5,121.1 620.5,121.1 621.5,121.0 622.5,121.0 623.5,120.9 624.5,120.9 625.5,120.9 626.5,120.8 627.5,120.8 628.5,120.8 629.5,120.8 630.5,120.8 631.5,120.8 632.5,120.8 633.5,120.8 634.5,120.8 635.5,120.8 636.5,120.8 637.5,120.8 638.5,120.8 639.5,120.8 640.5,120.9 641.5,121.0 642.5,121.1 643.5,121.3 644.5,121.4 645.5,121.6 646.5,121.9 647.5,122.1 648.5,122.4 649.5,122.6 650.5,122.9 651.5,123.1 652.5,123.4 653.5,123.7 654.5,123.9 655.5,124.2 656.5,124.5 657.5,124.8 658.5,125.0 659.5,125.3 660.5,125.6 661.5,125.9 662.5,126.2 663.5,126.5 664.5,126.8 665.5,127.1 666.5,127.4 667.5,127.8 668.5,128.2 669.5,128.6 670.5,129.0 671.5,129.5 672.5,130.0 673.5,130.5 674.5,131.0 675.5,131.5 676.5,132.0 677.5,132.5 678.5,132.9 679.5,133.4 680.5,133.8 681.5,134.2 682.5,134.6 683.5,135.0 684.5,135.3 685.5,135.6 686.5,135.8 687.5,136.1 688.5,136.3 689.5,136.6 690.5,136.9 691.5,137.1 692.5,137.4 693.5,137.7 694.5,138.1 695.5,138.4 696.5,138.8 697.5,139.1 698.5,139.5 699.5,139.9 700.5,140.4 701.5,140.8 702.5,141.3 703.5,141.9 704.5,142.4 705.5,143.0 706.5,143.7 707.5,144.4 708.5,145.1 709.5,145.8 710.5,146.6 711.5,147.3 712.5,148.0 713.5,148.7 714.5,149.4 715.5,150.0 716.5,150.6 717.5,151.2 718.5,151.8 719.5,152.4 720.5,152.9 721.5,153.5 722.5,154.0 723.5,154.6 724.5,155.1 725.5,155.7 726.5,156.3 727.5,156.8 728.5,157.4 729.5,157.9 730.5,158.5 731.5,159.0 732.5,159.6 733.5,160.1 734.5,160.7 735.5,161.3 736.5,162.0 737.5,162.6 738.5,163.3 739.5,164.0 740.5,164.7 741.5,165.5 742.5,166.2 743.5,167.0 744.5,167.8 745.5,168.6 746.5,169.5 747.5,170.4 748.5,171.3 749.5,172.2 750.5,173.2 751.5,174.2 752.5,175.2 753.5,176.2 754.5,177.2 755.5,178.2 756.5,179.2 757.5,180.2 758.5,181.2 759.5,182.2 760.5,183.2 761.5,184.1 762.5,185.0 763.5,185.9 764.5,186.7 765.5,187.5 766.5,188.3 767.5,189.0 768.5,189.7 769.5,190.4 770.5,191.1 771.5,191.8 772.5,192.5 773.5,193.1 774.5,193.8 775.5,194.4 776.5,195.0 777.5,195.6 778.5,196.1 779.5,196.7 780.5,197.2 781.5,197.7 782.5,198.2 783.5,198.7 784.5,199.2 785.5,199.7 786.5,200.2 787.5,200.8 788.5,201.3 789.5,201.9 790.5,202.5 791.5,203.1 792.5,203.7 793.5,204.3 794.5,204.9 795.5,205.5 796.5,206.1 797.5,206.6 798.5,207.2 799.5,207.7 800.5,208.2 801.5,208.7 802.5,209.1 803.5,209.6 804.5,210.0 805.5,210.4 806.5,210.8 807.5,211.2 808.5,211.5 809.5,211.9 810.5,212.2 811.5,212.6 812.5,212.9 813.5,213.2 814.5,213.4 815.5,213.7 816.5,213.9 817.5,214.1 818.5,214.3 819.5,214.5 820.5,214.7 821.5,214.9 822.5,215.1 823.5,215.4 824.5,215.6 825.5,215.9 826.5,216.2 827.5,216.4 828.5,216.7 829.5,217.0 830.5,217.3 831.5,217.6 832.5,217.9 833.5,218.2 834.5,218.5 835.5,218.9 836.5,219.2 837.5,219.6 838.5,219.9 839.5,220.3 840.5,220.7 841.5,221.1 842.5,221.5 843.5,221.9 844.5,222.3 845.5,222.7 846.5,223.1 847.5,223.5 848.5,223.8 849.5,224.2 850.5,224.5 851.5,224.8 852.5,225.1 853.5,225.4 854.5,225.7 855.5,226.0 856.5,226.3 857.5,226.6 858.5,226.9 859.5,227.2 860.5,227.5 861.5,227.8 862.5,228.1 863.5,228.4 864.5,228.7 865.5,229.0 866.5,229.3 867.5,229.6 868.5,229.9 869.5,230.2 870.5,230.6 871.5,230.9 872.5,231.2 873.5,231.6 874.5,231.9 875.5,232.3 876.5,232.7 877.5,233.1 878.5,233.5 879.5,233.9 880.5,234.3 881.5,234.7 882.5,235.0 883.5,235.4 884.5,235.7 885.5,236.1 886.5,236.4 887.5,236.7 888.5,237.0 889.5,237.3 890.5,237.5 891.5,237.8 892.5,238.0 893.5,238.3 894.5,238.5 895.5,238.7 896.5,238.9 897.5,239.0 898.5,239.1 899.5,239.2 900.5,239.3 901.5,239.3 902.5,239.3 903.5,239.3 904.5,239.3 905.5,239.3 906.5,239.3 907.5,239.2 908.5,239.2 909.5,239.1 910.5,239.0 911.5,238.9 912.5,238.8 913.5,238.6 914.5,238.5 915.5,238.3 916.5,238.1 917.5,238.0 918.5,237.8 919.5,237.6 920.5,237.4 921.5,237.2 922.5,236.9 923.5,236.7 924.5,236.4 925.5,236.1 926.5,235.8 927.5,235.5 928.5,235.2 929.5,234.9 930.5,234.7 931.5,234.4 932.5,234.1 933.5,233.9 934.5,233.6 935.5,233.4 936.5,233.2 937.5,233.0 938.5,232.8 939.5,232.6 940.5,232.4 941.5,232.2 942.5,232.0 943.5,231.8 944.5,231.6 945.5,231.5 946.5,231.3 947.5,231.2 948.5,231.1 949.5,230.9 950.5,230.8 951.5,230.7 952.5,230.6 953.5,230.5 954.5,230.4 955.5,230.3 956.5,230.2 957.5,230.1 958.5,230.0 959.5,229.9 960.5,229.8 961.5,229.7 962.5,229.6 963.5,229.5 964.5,229.4 965.5,229.3 966.5,229.2 967.5,229.1 968.5,228.9 969.5,228.7 970.5,228.5 971.5,228.3 972.5,228.1 973.5,227.8 974.5,227.5 975.5,227.2 976.5,226.9 977.5,226.6 978.5,226.3 979.5,226.0 980.5,225.7 981.5,225.4 982.5,225.0 983.5,224.7 984.5,224.3 985.5,223.9 986.5,223.5 987.5,223.1 988.5,222.7 989.5,222.3 990.5,221.9 991.5,221.5 992.5,221.1 993.5,220.6 994.5,220.2 995.5,219.7 996.5,219.3 997.5,218.8 998.5,218.3 999.5,217.8 1000.5,217.3 1001.5,216.8 1002.5,216.3 1003.5,215.8 1004.5,215.4 1005.5,214.9 1006.5,214.4 1007.5,213.9 1008.5,213.5 1009.5,213.0 1010.5,212.5 1011.5,212.1 1012.5,211.6 1013.5,211.2 1014.5,210.7 1015.5,210.3 1016.5,209.8 1017.5,209.4 1018.5,208.9 1019.5,208.4 1020.5,207.9 1021.5,207.4 1022.5,206.9 1023.5,206.4 1024.5,205.9 1025.5,205.3 1026.5,204.8 1027.5,204.2 1028.5,203.7 1029.5,203.1 1030.5,202.6 1031.5,202.0 1032.5,201.5 1033.5,201.2 1034.5,200.9 1035.5,200.7 1036.5,200.4" fill="none" stroke="#18a02a" stroke-width="2" shape-rendering="auto" stroke-linejoin="round"/>
<polyline points="7.5,217.8 8.5,217.6 9.5,217.4 10.5,217.2 11.5,217.1 12.5,216.7 13.5,216.4 14.5,216.0 15.5,215.6 16.5,215.3 17.5,214.9 18.5,214.6 19.5,214.2 20.5,213.8 21.5,213.5 22.5,213.1 23.5,212.8 24.5,212.4 25.5,212.1 26.5,211.7 27.5,211.3 28.5,211.0 29.5,210.6 30.5,210.3 31.5,209.9 32.5,209.5 33.5,209.2 34.5,208.8 35.5,208.5 36.5,208.1 37.5,207.8 38.5,207.4 39.5,207.1 40.5,206.7 41.5,206.4 42.5,206.1 43.5,205.7 44.5,205.4 45.5,205.1 46.5,204.8 47.5,204.4 48.5,204.1 49.5,203.8 50.5,203.5 51.5,203.1 52.5,202.8 53.5,202.5 54.5,202.2 55.5,201.8 56.5,201.5 57.5,201.2 58.5,200.9 59.5,200.6 60.5,200.2 61.5,199.9 62.5,199.6 63.5,199.3 64.5,198.9 65.5,198.6 66.5,198.3 67.5,198.0 68.5,197.6 69.5,197.3 70.5,197.0 71.5,196.7 72.5,196.3 73.5,196.0 74.5,195.7 75.5,195.4 76.5,195.0 77.5,194.7 78.5,194.4 79.5,194.1 80.5,193.7 81.5,193.4 82.5,193.1 83.5,192.8 84.5,192.4 85.5,192.1 86.5,191.8 87.5,191.5 88.5,191.1 89.5,190.8 90.5,190.5 91.5,190.2 92.5,189.8 93.5,189.5 94.5,189.2 95.5,188.9 96.5,188.5 97.5,188.2 98.5,187.9 99.5,187.6 100.5,187.2 101.5,186.9 102.5,186.6 103.5,186.3 104.5,185.9 105.5,185.6 106.5,185.3 107.5,184.9 108.5,184.6 109.5,184.3 110.5,184.0 111.5,183.6 112.5,183.3 113.5,183.0 114.5,182.7 115.5,182.3 116.5,182.0 117.5,181.7 118.5,181.4 119.5,181.1 120.5,180.8 121.5,180.5 122.5,180.3 123.5,180.0 124.5,179.7 125.5,179.4 126.5,179.2 127.5,178.9 128.5,178.6 129.5,178.4 130.5,178.1 131.5,177.8 132.5,177.5 133.5,177.3 134.5,177.0 135.5,176.7 136.5,176.4 137.5,176.2 138.5,175.9 139.5,175.6 140.5,175.4 141.5,175.1 142.5,174.8 143.5,174.5 144.5,174.3 145.5,174.0 146.5,173.7 147.5,173.4 148.5,173.2 149.5,172.9 150.5,172.6 151.5,172.4 152.5,172.1 153.5,171.8 154.5,171.5 155.5,171.2 156.5,171.0 157.5,170.6 158.5,170.3 159.5,170.0 160.5,169.7 161.5,169.3 162.5,169.0 163.5,168.6 164.5,168.2 165.5,167.8 166.5,167.5 167.5,167.1 168.5,166.7 169.5,166.4 170.5,166.0 171.5,165.6 172.5,165.3 173.5,164.9 174.5,164.5 175.5,164.2 176.5,163.8 177.5,163.4 178.5,163.1 179.5,162.8 180.5,162.5 181.5,162.2 182.5,161.9 183.5,161.6 184.5,161.4 185.5,161.1 186.5,160.9 187.5,160.6 188.5,160.4 189.5,160.2 190.5,159.9 191.5,159.7 192.5,159.4 193.5,159.2 194.5,158.9 195.5,158.7 196.5,158.4 197.5,158.2 198.5,157.9 199.5,157.7 200.5,157.4 201.5,157.2 202.5,156.9 203.5,156.7 204.5,156.4 205.5,156.2 206.5,155.9 207.5,155.7 208.5,155.5 209.5,155.2 210.5,155.0 211.5,154.7 212.5,154.5 213.5,154.2 214.5,154.0 215.5,153.7 216.5,153.5 217.5,153.3 218.5,153.1 219.5,152.9 220.5,152.7 221.5,152.5 222.5,152.3 223.5,152.1 224.5,151.9 225.5,151.7 226.5,151.5 227.5,151.3 228.5,151.1 229.5,151.0 230.5,150.8 231.5,150.6 232.5,150.4 233.5,150.2 234.5,150.0 235.5,149.8 236.5,149.6 237.5,149.5 238.5,149.3 239.5,149.1 240.5,148.9 241.5,148.7 242.5,148.5 243.5,148.3 244.5,148.1 245.5,147.9 246.5,147.8 247.5,147.6 248.5,147.4 249.5,147.1 250.5,146.9 251.5,146.7 252.5,146.5 253.5,146.3 254.5,146.0 255.5,145.8 256.5,145.5 257.5,145.3 258.5,145.1 259.5,144.8 260.5,144.6 261.5,144.3 262.5,144.1 263.5,143.9 264.5,143.6 265.5,143.4 266.5,143.1 267.5,142.9 268.5,142.6 269.5,142.4 270.5,142.1 271.5,141.8 272.5,141.6 273.5,141.3 274.5,141.0 275.5,140.7 276.5,140.4 277.5,140.1 278.5,139.8 279.5,139.5 280.5,139.2 281.5,138.9 282.5,138.6 283.5,138.3 284.5,138.0 285.5,137.7 286.5,137.4 287.5,137.2 288.5,136.9 289.5,136.6 290.5,136.3 291.5,136.1 292.5,135.8 293.5,135.6 294.5,135.4 295.5,135.1 296.5,134.9 297.5,134.7 298.5,134.4 299.5,134.2 300.5,134.0 301.5,133.8 302.5,133.5 303.5,133.3 304.5,133.1 305.5,132.8 306.5,132.6 307.5,132.4 308.5,132.1 309.5,131.9 310.5,131.7 311.5,131.4 312.5,131.2 313.5,130.9 314.5,130.7 315.5,130.4 316.5,130.2 317.5,129.9 318.5,129.7 319.5,129.4 320.5,129.2 321.5,128.9 322.5,128.7 323.5,128.4 324.5,128.2 325.5,127.9 326.5,127.7 327.5,127.4 328.5,127.2 329.5,127.0 330.5,126.8 331.5,126.6 332.5,126.4 333.5,126.3 334.5,126.1 335.5,125.9 336.5,125.8 337.5,125.6 338.5,125.5 339.5,125.3 340.5,125.1 341.5,125.0 342.5,124.8 343.5,124.7 344.5,124.5 345.5,124.4 346.5,124.2 347.5,124.1 348.5,123.9 349.5,123.8 350.5,123.6 351.5,123.5 352.5,123.3 353.5,123.2 354.5,123.1 355.5,123.0 356.5,122.8 357.5,122.7 358.5,122.6 359.5,122.4 360.5,122.3 361.5,122.2 362.5,122.0 363.5,121.9 364.5,121.8 365.5,121.7 366.5,121.5 367.5,121.4 368.5,121.3 369.5,121.2 370.5,121.1 371.5,121.1 372.5,121.0 373.5,120.9 374.5,120.8 375.5,120.8 376.5,120.7 377.5,120.6 378.5,120.6 379.5,120.5 380.5,120.5 381.5,120.4 382.5,120.3 383.5,120.3 384.5,120.2 385.5,120.1 386.5,120.1 387.5,120.0 388.5,119.9 389.5,119.8 390.5,119.7 391.5,119.6 392.5,119.5 393.5,119.4 394.5,119.4 395.5,119.2 396.5,119.2 397.5,119.1 398.5,118.9 399.5,118.9 400.5,118.8 401.5,118.7 402.5,118.6 403.5,118.4 404.5,118.4 405.5,118.2 406.5,118.2 407.5,118.1 408.5,117.9 409.5,117.9 410.5,117.8 411.5,117.7 412.5,117.6 413.5,117.4 414.5,117.4 415.5,117.2 416.5,117.2 417.5,117.1 418.5,116.9 419.5,116.9 420.5,116.8 421.5,116.7 422.5,116.6 423.5,116.4 424.5,116.4 425.5,116.3 426.5,116.2 427.5,116.1 428.5,116.0 429.5,116.0 430.5,115.9 431.5,115.9 432.5,115.8 433.5,115.8 434.5,115.8 435.5,115.8 436.5,115.8 437.5,115.7 438.5,115.7 439.5,115.7 440.5,115.7 441.5,115.6 442.5,115.6 443.5,115.6 444.5,115.6 445.5,115.6 446.5,115.6 447.5,115.5 448.5,115.5 449.5,115.5 450.5,115.5 451.5,115.5 452.5,115.5 453.5,115.5 454.5,115.5 455.5,115.5 456.5,115.5 457.5,115.5 458.5,115.5 459.5,115.5 460.5,115.5 461.5,115.5 462.5,115.5 463.5,115.5 464.5,115.5 465.5,115.5 466.5,115.5 467.5,115.5 468.5,115.5 469.5,115.5 470.5,115.5 471.5,115.5 472.5,115.5 473.5,115.5 474.5,115.5 475.5,115.5 476.5,115.5 477.5,115.5 478.5,115.5 479.5,115.5 480.5,115.5 481.5,115.5 482.5,115.5 483.5,115.5 484.5,115.5 485.5,115.5 486.5,115.5 487.5,115.5 488.5,115.5 489.5,115.5 490.5,115.5 491.5,115.5 492.5,115.5 493.5,115.5 494.5,115.5 495.5,115.5 496.5,115.5 497.5,115.5 498.5,115.5 499.5,115.5 500.5,115.5 501.5,115.5 502.5,115.4 503.5,115.4 504.5,115.4 505.5,115.4 506.5,115.4 507.5,115.4 508.5,115.4 509.5,115.4 510.5,115.4 511.5,115.4 512.5,115.4 513.5,115.4 514.5,115.3 515.5,115.3 516.5,115.3 517.5,115.2 518.5,115.2 519.5,115.1 520.5,115.1 521.5,115.0 522.5,114.9 523.5,114.9 524.5,114.8 525.5,114.7 526.5,114.7 527.5,114.6 528.5,114.5 529.5,114.5 530.5,114.4 531.5,114.4 532.5,114.3 533.5,114.2 534.5,114.2 535.5,114.1 536.5,114.0 537.5,114.0 538.5,113.9 539.5,113.8 540.5,113.8 541.5,113.7 542.5,113.7 543.5,113.6 544.5,113.5 545.5,113.5 546.5,113.4 547.5,113.3 548.5,113.3 549.5,113.2 550.5,113.1 551.5,113.1 552.5,113.0 553.5,112.9 554.5,112.9 555.5,112.8 556.5,112.7 557.5,112.7 558.5,112.6 559.5,112.5 560.5,112.5 561.5,112.4 562.5,112.3 563.5,112.3 564.5,112.2 565.5,112.1 566.5,112.1 567.5,112.0 568.5,111.9 569.5,111.9 570.5,111.8 571.5,111.7 572.5,111.7 573.5,111.6 574.5,111.5 575.5,111.4 576.5,111.4 577.5,111.3 578.5,111.2 579.5,111.1 580.5,111.0 581.5,111.0 582.5,110.9 583.5,110.8 584.5,110.7 585.5,110.6 586.5,110.6 587.5,110.5 588.5,110.4 589.5,110.3 590.5,110.2 591.5,110.2 592.5,110.1 593.5,110.0 594.5,109.9 595.5,109.9 596.5,109.8 597.5,109.8 598.5,109.7 599.5,109.7 600.5,109.7 601.5,109.6 602.5,109.6 603.5,109.6 604.5,109.5 605.5,109.5 606.5,109.4 607.5,109.4 608.5,109.4 609.5,109.3 610.5,109.3 611.5,109.2 612.5,109.2 613.5,109.2 614.5,109.1 615.5,109.1 616.5,109.0 617.5,109.0 618.5,108.9 619.5,108.9 620.5,108.9 621.5,108.8 622.5,108.8 623.5,108.7 624.5,108.7 625.5,108.7 626.5,108.6 627.5,108.6 628.5,108.5 629.5,108.5 630.5,108.4 631.5,108.4 632.5,108.4 633.5,108.4 634.5,108.4 635.5,108.4 636.5,108.4 637.5,108.4 638.5,108.4 639.5,108.5 640.5,108.5 641.5,108.5 642.5,108.6 643.5,108.6 644.5,108.6 645.5,108.6 646.5,108.7 647.5,108.7 648.5,108.7 649.5,108.8 650.5,108.8 651.5,108.8 652.5,108.8 653.5,108.8 654.5,108.8 655.5,108.8 656.5,108.8 657.5,108.8 658.5,108.8 659.5,108.8 660.5,108.7 661.5,108.7 662.5,108.7 663.5,108.6 664.5,108.6 665.5,108.6 666.5,108.6 667.5,108.5 668.5,108.5 669.5,108.5 670.5,108.4 671.5,108.4 672.5,108.4 673.5,108.4 674.5,108.4 675.5,108.4 676.5,108.4 677.5,108.4 678.5,108.4 679.5,108.4 680.5,108.4 681.5,108.5 682.5,108.5 683.5,108.6 684.5,108.6 685.5,108.6 686.5,108.7 687.5,108.7 688.5,108.7 689.5,108.8 690.5,108.8 691.5,108.8 692.5,108.8 693.5,108.9 694.5,108.9 695.5,108.9 696.5,108.9 697.5,109.0 698.5,109.0 699.5,109.0 700.5,109.0 701.5,109.0 702.5,109.0 703.5,109.0 704.5,109.1 705.5,109.1 706.5,109.1 707.5,109.1 708.5,109.1 709.5,109.1 710.5,109.1 711.5,109.2 712.5,109.2 713.5,109.2 714.5,109.2 715.5,109.2 716.5,109.2 717.5,109.3 718.5,109.3 719.5,109.3 720.5,109.3 721.5,109.3 722.5,109.3 723.5,109.3 724.5,109.4 725.5,109.4 726.5,109.4 727.5,109.4 728.5,109.4 729.5,109.4 730.5,109.5 731.5,109.5 732.5,109.5 733.5,109.5 734.5,109.6 735.5,109.6 736.5,109.7 737.5,109.7 738.5,109.8 739.5,109.9 740.5,110.0 741.5,110.0 742.5,110.1 743.5,110.2 744.5,110.2 745.5,110.3 746.5,110.4 747.5,110.4 748.5,110.5 749.5,110.6 750.5,110.7 751.5,110.7 752.5,110.8 753.5,110.9 754.5,111.0 755.5,111.0 756.5,111.1 757.5,111.2 758.5,111.3 759.5,111.4 760.5,111.5 761.5,111.6 762.5,111.7 763.5,111.8 764.5,111.9 765.5,112.0 766.5,112.1 767.5,112.1 768.5,112.2 769.5,112.3 770.5,112.4 771.5,112.5 772.5,112.6 773.5,112.7 774.5,112.8 775.5,112.9 776.5,113.0 777.5,113.1 778.5,113.2 779.5,113.2 780.5,113.3 781.5,113.4 782.5,113.5 783.5,113.6 784.5,113.7 785.5,113.8 786.5,113.9 787.5,113.9 788.5,114.0 789.5,114.1 790.5,114.2 791.5,114.3 792.5,114.4 793.5,114.5 794.5,114.6 795.5,114.6 796.5,114.7 797.5,114.8 798.5,114.9 799.5,115.0 800.5,115.1 801.5,115.2 802.5,115.2 803.5,115.3 804.5,115.4 805.5,115.5 806.5,115.6 807.5,115.7 808.5,115.8 809.5,115.9 810.5,116.0 811.5,116.2 812.5,116.3 813.5,116.5 814.5,116.6 815.5,116.8 816.5,117.0 817.5,117.1 818.5,117.3 819.5,117.5 820.5,117.6 821.5,117.8 822.5,117.9 823.5,118.1 824.5,118.3 825.5,118.4 826.5,118.6 827.5,118.8 828.5,118.9 829.5,119.1 830.5,119.2 831.5,119.4 832.5,119.6 833.5,119.7 834.5,119.9 835.5,120.1 836.5,120.2 837.5,120.4 838.5,120.5 839.5,120.7 840.5,120.8 841.5,121.0 842.5,121.1 843.5,121.3 844.5,121.4 845.5,121.5 846.5,121.7 847.5,121.8 848.5,121.9 849.5,122.1 850.5,122.2 851.5,122.3 852.5,122.5 853.5,122.6 854.5,122.7 855.5,122.9 856.5,123.0 857.5,123.1 858.5,123.3 859.5,123.4 860.5,123.5 861.5,123.7 862.5,123.8 863.5,123.9 864.5,124.1 865.5,124.2 866.5,124.3 867.5,124.5 868.5,124.6 869.5,124.8 870.5,124.9 871.5,125.1 872.5,125.3 873.5,125.5 874.5,125.6 875.5,125.8 876.5,126.0 877.5,126.2 878.5,126.4 879.5,126.6 880.5,126.8 881.5,126.9 882.5,127.1 883.5,127.3 884.5,127.5 885.5,127.7 886.5,127.9 887.5,128.1 888.5,128.3 889.5,128.4 890.5,128.6 891.5,128.8 892.5,129.0 893.5,129.2 894.5,129.4 895.5,129.6 896.5,129.7 897.5,129.9 898.5,130.1 899.5,130.3 900.5,130.5 901.5,130.7 902.5,130.8 903.5,131.0 904.5,131.2 905.5,131.4 906.5,131.6 907.5,131.8 908.5,131.9 909.5,132.1 910.5,132.3 911.5,132.5 912.5,132.7 913.5,132.8 914.5,133.0 915.5,133.2 916.5,133.4 917.5,133.6 918.5,133.7 919.5,133.9 920.5,134.1 921.5,134.3 922.5,134.5 923.5,134.6 924.5,134.8 925.5,135.0 926.5,135.2 927.5,135.3 928.5,135.5 929.5,135.7 930.5,135.9 931.5,136.0 932.5,136.2 933.5,136.4 934.5,136.5 935.5,136.7 936.5,136.9 937.5,137.0 938.5,137.2 939.5,137.4 940.5,137.5 941.5,137.7 942.5,137.8 943.5,138.0 944.5,138.2 945.5,138.3 946.5,138.5 947.5,138.7 948.5,138.8 949.5,139.0 950.5,139.1 951.5,139.3 952.5,139.5 953.5,139.6 954.5,139.8 955.5,140.0 956.5,140.1 957.5,140.3 958.5,140.4 959.5,140.6 960.5,140.7 961.5,140.9 962.5,141.0 963.5,141.2 964.5,141.3 965.5,141.4 966.5,141.6 967.5,141.7 968.5,141.8 969.5,142.0 970.5,142.1 971.5,142.2 972.5,142.4 973.5,142.5 974.5,142.6 975.5,142.8 976.5,142.9 977.5,143.0 978.5,143.2 979.5,143.3 980.5,143.4 981.5,143.6 982.5,143.7 983.5,143.8 984.5,144.0 985.5,144.1 986.5,144.2 987.5,144.4 988.5,144.5 989.5,144.6 990.5,144.7 991.5,144.8 992.5,145.0 993.5,145.1 994.5,145.2 995.5,145.3 996.5,145.4 997.5,145.5 998.5,145.6 999.5,145.7 1000.5,145.8 1001.5,145.9 1002.5,146.0 1003.5,146.1 1004.5,146.2 1005.5,146.3 1006.5,146.4 1007.5,146.5 1008.5,146.6 1009.5,146.7 1010.5,146.8 1011.5,146.9 1012.5,147.0 1013.5,147.1 1014.5,147.2 1015.5,147.3 1016.5,147.4 1017.5,147.5 1018.5,147.6 1019.5,147.7 1020.5,147.8 1021.5,147.8 1022.5,147.9 1023.5,148.0 1024.5,148.0 1025.5,148.1 1026.5,148.1 1027.5,148.2 1028.5,148.2 1029.5,148.3 1030.5,148.4 1031.5,148.4 1032.5,148.5 1033.5,148.5 1034.5,148.5 1035.5,148.6 1036.5,148.6" fill="none" stroke="#ff0000" stroke-width="2.5" shape-rendering="auto" stroke-linejoin="round"/>
<text x="9.40" y="26" font-family="Liberation Mono" font-size="12" font-weight="normal" fill="#0000ff" textLength="29.65" lengthAdjust="spacingAndGlyphs" style="white-space:pre" >5,400</text>
<text x="881.50" y="119" font-family="Liberation Mono" font-size="15" font-weight="bold" fill="#ff0000" textLength="63.00" lengthAdjust="spacingAndGlyphs" style="white-space:pre" >MMS (200)</text>
<text x="1149.00" y="128" font-family="Liberation Mono" font-size="15" font-weight="bold" fill="#ff0000" textLength="21.00" lengthAdjust="spacingAndGlyphs" style="white-space:pre" >4,2</text>
<text x="1139.50" y="182" font-family="Liberation Mono" font-size="15" font-weight="bold" fill="#ff0000" textLength="70.00" lengthAdjust="spacingAndGlyphs" style="white-space:pre" >3,72 / 3,6</text>
<text x="833.00" y="208.5" font-family="Liberation Mono" font-size="15" font-weight="bold" fill="#008000" textLength="56.00" lengthAdjust="spacingAndGlyphs" style="white-space:pre" >MMS (40)</text>
<rect x="9" y="279" width="71" height="15" fill="#33a333"/>
<text x="11.90" y="290.3" font-family="Liberation Mono" font-size="12" font-weight="normal" fill="#000000" textLength="65.23" lengthAdjust="spacingAndGlyphs" style="white-space:pre" >Sin órdenes</text>
<text x="75.7" y="305" font-family="Liberation Sans" font-size="14.5" font-weight="bold" fill="#a9acd3" textLength="169.5" lengthAdjust="spacingAndGlyphs" shape-rendering="auto">www.visualchart.com</text>
<rect x="1290" y="15" width="68" height="1" fill="#0000ff"/>
<rect x="1290" y="15" width="1" height="301" fill="#0000ff"/>
<rect x="1291" y="22" width="6" height="1" fill="#0000ff"/>
<text x="1301.80" y="26" font-family="Liberation Mono" font-size="15" font-weight="bold" fill="#0000ff" textLength="21.00" lengthAdjust="spacingAndGlyphs" style="white-space:pre" >5,5</text>
<rect x="1291" y="58" width="6" height="1" fill="#0000ff"/>
<text x="1301.80" y="62" font-family="Liberation Mono" font-size="15" font-weight="bold" fill="#0000ff" textLength="7.00" lengthAdjust="spacingAndGlyphs" style="white-space:pre" >5</text>
<rect x="1291" y="98" width="6" height="1" fill="#0000ff"/>
<text x="1301.80" y="102" font-family="Liberation Mono" font-size="15" font-weight="bold" fill="#0000ff" textLength="21.00" lengthAdjust="spacingAndGlyphs" style="white-space:pre" >4,5</text>
<rect x="1291" y="142" width="6" height="1" fill="#0000ff"/>
<text x="1301.80" y="146" font-family="Liberation Mono" font-size="15" font-weight="bold" fill="#0000ff" textLength="7.00" lengthAdjust="spacingAndGlyphs" style="white-space:pre" >4</text>
<rect x="1291" y="193" width="6" height="1" fill="#0000ff"/>
<text x="1301.80" y="197" font-family="Liberation Mono" font-size="15" font-weight="bold" fill="#0000ff" textLength="21.00" lengthAdjust="spacingAndGlyphs" style="white-space:pre" >3,5</text>
<rect x="1291" y="251" width="6" height="1" fill="#0000ff"/>
<text x="1301.80" y="255" font-family="Liberation Mono" font-size="15" font-weight="bold" fill="#0000ff" textLength="7.00" lengthAdjust="spacingAndGlyphs" style="white-space:pre" >3</text>
<rect x="1291" y="34" width="3" height="1" fill="#0000ff"/>
<rect x="1291" y="46" width="3" height="1" fill="#0000ff"/>
<rect x="1291" y="68" width="3" height="1" fill="#0000ff"/>
<rect x="1291" y="79" width="3" height="1" fill="#0000ff"/>
<rect x="1291" y="88" width="3" height="1" fill="#0000ff"/>
<rect x="1291" y="109" width="3" height="1" fill="#0000ff"/>
<rect x="1291" y="120" width="3" height="1" fill="#0000ff"/>
<rect x="1291" y="131" width="3" height="1" fill="#0000ff"/>
<rect x="1291" y="152" width="3" height="1" fill="#0000ff"/>
<rect x="1291" y="163" width="3" height="1" fill="#0000ff"/>
<rect x="1291" y="173" width="3" height="1" fill="#0000ff"/>
<rect x="1291" y="183" width="3" height="1" fill="#0000ff"/>
<rect x="1291" y="205" width="3" height="1" fill="#0000ff"/>
<rect x="1291" y="216" width="3" height="1" fill="#0000ff"/>
<rect x="1291" y="226" width="3" height="1" fill="#0000ff"/>
<rect x="1291" y="238" width="3" height="1" fill="#0000ff"/>
<rect x="1291" y="262" width="3" height="1" fill="#0000ff"/>
<rect x="1291" y="273" width="3" height="1" fill="#0000ff"/>
<rect x="1291" y="285" width="3" height="1" fill="#0000ff"/>
<rect x="1291" y="295" width="3" height="1" fill="#0000ff"/>
<rect x="1291" y="305" width="3" height="1" fill="#0000ff"/>
<clipPath id="c25"><rect x="1290" y="300" width="68" height="16"/></clipPath>
<text x="1301.80" y="323" font-family="Liberation Mono" font-size="15" font-weight="bold" fill="#0000ff" textLength="21.00" lengthAdjust="spacingAndGlyphs" style="white-space:pre" clip-path="url(#c25)">2,5</text>
<rect x="1318" y="3" width="11" height="10" fill="#d6d3cc"/><rect x="1318" y="3" width="11" height="1" fill="#f8f8f4"/><rect x="1318" y="12" width="11" height="1" fill="#505050"/><rect x="1330" y="3" width="11" height="10" fill="#d6d3cc"/><rect x="1330" y="3" width="11" height="1" fill="#f8f8f4"/><rect x="1330" y="12" width="11" height="1" fill="#505050"/><rect x="1343" y="3" width="11" height="10" fill="#d6d3cc"/><rect x="1343" y="3" width="11" height="1" fill="#f8f8f4"/><rect x="1343" y="12" width="11" height="1" fill="#505050"/><rect x="1320" y="9" width="5" height="2" fill="#000"/><rect x="1331" y="4" width="8" height="2" fill="#000"/><rect x="1331" y="10" width="8" height="1" fill="#000"/><rect x="1331" y="4" width="1" height="7" fill="#000"/><rect x="1338" y="4" width="1" height="7" fill="#000"/><rect x="1332" y="6" width="6" height="4" fill="#f4f4f0"/><path d="M1345 5 L1352 10.5 M1352 5 L1345 10.5" stroke="#000" stroke-width="1.5" shape-rendering="auto"/>
<rect x="1318" y="319" width="11" height="10" fill="#d6d3cc"/><rect x="1318" y="319" width="11" height="1" fill="#f8f8f4"/><rect x="1318" y="328" width="11" height="1" fill="#505050"/><rect x="1330" y="319" width="11" height="10" fill="#d6d3cc"/><rect x="1330" y="319" width="11" height="1" fill="#f8f8f4"/><rect x="1330" y="328" width="11" height="1" fill="#505050"/><rect x="1343" y="319" width="11" height="10" fill="#d6d3cc"/><rect x="1343" y="319" width="11" height="1" fill="#f8f8f4"/><rect x="1343" y="328" width="11" height="1" fill="#505050"/><rect x="1320" y="325" width="5" height="2" fill="#000"/><rect x="1331" y="320" width="8" height="2" fill="#000"/><rect x="1331" y="326" width="8" height="1" fill="#000"/><rect x="1331" y="320" width="1" height="7" fill="#000"/><rect x="1338" y="320" width="1" height="7" fill="#000"/><rect x="1332" y="322" width="6" height="4" fill="#f4f4f0"/><path d="M1345 321 L1352 326.5 M1352 321 L1345 326.5" stroke="#000" stroke-width="1.5" shape-rendering="auto"/>
<rect x="1318" y="447" width="11" height="10" fill="#d6d3cc"/><rect x="1318" y="447" width="11" height="1" fill="#f8f8f4"/><rect x="1318" y="456" width="11" height="1" fill="#505050"/><rect x="1330" y="447" width="11" height="10" fill="#d6d3cc"/><rect x="1330" y="447" width="11" height="1" fill="#f8f8f4"/><rect x="1330" y="456" width="11" height="1" fill="#505050"/><rect x="1343" y="447" width="11" height="10" fill="#d6d3cc"/><rect x="1343" y="447" width="11" height="1" fill="#f8f8f4"/><rect x="1343" y="456" width="11" height="1" fill="#505050"/><rect x="1320" y="453" width="5" height="2" fill="#000"/><rect x="1331" y="448" width="8" height="2" fill="#000"/><rect x="1331" y="454" width="8" height="1" fill="#000"/><rect x="1331" y="448" width="1" height="7" fill="#000"/><rect x="1338" y="448" width="1" height="7" fill="#000"/><rect x="1332" y="450" width="6" height="4" fill="#f4f4f0"/><path d="M1345 449 L1352 454.5 M1352 449 L1345 454.5" stroke="#000" stroke-width="1.5" shape-rendering="auto"/>
<text x="3.00" y="327" font-family="Liberation Mono" font-size="12" font-weight="normal" fill="#ff0000" textLength="106.74" lengthAdjust="spacingAndGlyphs" style="white-space:pre" >MACD_SCYR,MC MACD:</text>
<text x="115.67" y="327" font-family="Liberation Mono" font-size="12" font-weight="normal" fill="#0000ff" textLength="136.39" lengthAdjust="spacingAndGlyphs" style="white-space:pre" >0,1824 MediaSIG: 0,1566</text>
<text x="257.99" y="327" font-family="Liberation Mono" font-size="12" font-weight="normal" fill="#404040" textLength="59.30" lengthAdjust="spacingAndGlyphs" style="white-space:pre" >Band_MACD:</text>
<text x="323.22" y="327" font-family="Liberation Mono" font-size="12" font-weight="normal" fill="#0000ff" textLength="35.58" lengthAdjust="spacingAndGlyphs" style="white-space:pre" >0,0000</text>
<text x="364.73" y="327" font-family="Liberation Mono" font-size="12" font-weight="normal" fill="#ff0000" textLength="53.37" lengthAdjust="spacingAndGlyphs" style="white-space:pre" >P: 1,4966</text>
<rect x="668" y="410" width="103" height="34" fill="#ff6822"/>
<line x1="7" y1="332.4" x2="1030" y2="393.2" stroke="#1a72d6" stroke-width="1" stroke-dasharray="3 3" shape-rendering="auto"/>
<rect x="7" y="381" width="1030" height="1" fill="#404040"/>
<polyline points="7.0,347.4 13.0,345.5 21.5,343.5 28.0,343.3 35.0,341.5 40.0,342.0 50.0,343.8 62.6,345.0 75.0,352.5 87.6,355.5 100.0,348.8 117.7,343.8 135.0,348.8 150.0,360.0 170.0,370.8 190.3,368.8 207.8,366.3 220.0,371.3 240.0,380.0 255.4,377.6 275.4,367.6 300.5,358.8 315.5,360.0 330.0,366.3 350.0,383.8 370.0,396.4 390.0,408.9 410.0,408.9 435.2,398.1 455.2,405.1 470.2,413.9 490.2,418.9 510.3,411.4 530.3,393.9 550.3,380.1 565.4,373.1 600.4,373.8 620.4,380.1 643.0,391.3 660.0,410.1 670.0,418.9 680.0,422.6 700.0,418.9 730.1,413.9 742.6,415.1 770.2,425.2 795.2,412.6 820.2,398.9 840.3,397.6 860.3,395.1 880.3,394.6 897.9,396.4 910.4,391.3 930.4,381.3 940.4,373.8 960.5,366.3 980.5,365.1 1000.0,357.5 1035.7,345.9" fill="none" stroke="#0000ff" stroke-width="1.3" stroke-dasharray="1.5 1.5" shape-rendering="auto"/>
<polyline points="7.0,342.8 15.0,341.3 25.0,340.5 35.0,339.0 37.0,340.0 43.8,345.0 57.6,345.5 65.0,348.8 75.0,360.0 85.0,361.3 95.0,348.8 110.0,338.0 122.7,342.5 130.0,350.0 140.0,370.0 150.0,372.6 160.0,376.8 170.0,375.0 180.0,370.0 190.0,366.3 200.0,366.3 207.8,365.0 220.0,382.6 230.0,385.0 240.0,383.0 250.0,378.8 263.0,366.3 275.4,361.3 285.4,354.5 300.5,357.5 315.5,362.6 325.5,373.8 330.0,376.3 347.5,395.1 355.0,394.6 362.5,398.9 370.0,407.6 380.0,415.6 390.0,416.4 395.0,411.4 405.0,407.6 417.6,398.9 430.0,392.1 442.7,402.6 452.7,411.4 462.7,424.6 475.2,421.4 485.2,419.6 495.2,415.1 507.8,402.6 515.3,388.8 527.8,382.6 537.8,378.8 550.3,367.6 557.8,367.1 570.4,373.1 580.4,373.1 587.9,372.1 600.4,375.1 610.4,382.6 620.4,385.1 625.4,390.1 635.5,395.1 648.0,411.4 655.5,420.1 663.0,432.7 672.5,432.7 685.0,421.4 697.6,414.6 710.0,413.9 735.1,412.6 745.1,417.6 752.6,427.7 760.2,429.7 770.2,428.9 780.2,417.6 790.2,407.6 800.2,403.9 810.2,397.6 817.7,392.1 827.8,393.1 837.8,399.6 845.3,399.6 855.3,394.6 865.3,391.3 872.8,393.1 877.8,395.6 890.3,396.4 895.4,397.6 905.4,393.9 920.4,380.1 935.4,365.1 942.9,363.8 949.2,361.3 958.0,365.1 965.5,367.6 975.5,363.8 980.0,361.2 991.1,353.7 999.5,353.7 1010.6,348.7 1021.7,345.0 1030.0,343.1 1035.7,339.5 1037.0,339.5" fill="none" stroke="#ff0000" stroke-width="2.6" shape-rendering="auto" stroke-linejoin="round"/>
<line x1="762.7" y1="433.9" x2="1111.4" y2="346.4" stroke="#1a74d2" stroke-width="3" shape-rendering="auto"/>
<rect x="1290" y="331" width="68" height="1" fill="#0000ff"/>
<rect x="1290" y="331" width="1" height="113" fill="#0000ff"/>
<rect x="1291" y="335" width="6" height="1" fill="#0000ff"/>
<rect x="1291" y="381" width="6" height="1" fill="#0000ff"/>
<rect x="1291" y="426" width="6" height="1" fill="#0000ff"/>
<rect x="1291" y="346" width="3" height="1" fill="#0000ff"/>
<rect x="1291" y="357" width="3" height="1" fill="#0000ff"/>
<rect x="1291" y="368" width="3" height="1" fill="#0000ff"/>
<rect x="1291" y="392" width="3" height="1" fill="#0000ff"/>
<rect x="1291" y="404" width="3" height="1" fill="#0000ff"/>
<rect x="1291" y="415" width="3" height="1" fill="#0000ff"/>
<rect x="1291" y="438" width="3" height="1" fill="#0000ff"/>
<clipPath id="c02"><rect x="1290" y="332" width="68" height="20"/></clipPath>
<text x="1301.80" y="339" font-family="Liberation Mono" font-size="15" font-weight="bold" fill="#0000ff" textLength="21.00" lengthAdjust="spacingAndGlyphs" style="white-space:pre" clip-path="url(#c02)">0,2</text>
<text x="1301.80" y="385.5" font-family="Liberation Mono" font-size="15" font-weight="bold" fill="#0000ff" textLength="7.00" lengthAdjust="spacingAndGlyphs" style="white-space:pre" >0</text>
<text x="1301.80" y="429.8" font-family="Liberation Mono" font-size="15" font-weight="bold" fill="#0000ff" textLength="28.00" lengthAdjust="spacingAndGlyphs" style="white-space:pre" >-0,2</text>
<text x="2.90" y="455.2" font-family="Liberation Mono" font-size="12" font-weight="normal" fill="#0000ff" textLength="154.18" lengthAdjust="spacingAndGlyphs" style="white-space:pre" >Vol_SCYR,MC Vol: 4,136,300</text>
<text x="163.01" y="455.2" font-family="Liberation Mono" font-size="12" font-weight="normal" fill="#ff0000" textLength="83.02" lengthAdjust="spacingAndGlyphs" style="white-space:pre" >P: 160,562,159</text>
<ellipse cx="824" cy="501.2" rx="259" ry="31.8" fill="#008000"/>
<rect x="0" y="536" width="1358" height="20" fill="#efefef"/>
<line x1="879.5" y1="459" x2="879.5" y2="527" stroke="#c8c8c8" stroke-width="1" stroke-dasharray="17 7"/>
<g fill="#0000ff"><rect x="7" y="483" width="1" height="44"/><rect x="11" y="496" width="1" height="31"/><rect x="15" y="502" width="1" height="25"/><rect x="19" y="508" width="1" height="19"/><rect x="23" y="508" width="1" height="19"/><rect x="28" y="508" width="1" height="19"/><rect x="32" y="508" width="1" height="19"/><rect x="36" y="509" width="1" height="18"/><rect x="40" y="519" width="1" height="8"/><rect x="44" y="503" width="1" height="24"/><rect x="48" y="504" width="1" height="23"/><rect x="52" y="508" width="1" height="19"/><rect x="56" y="508" width="1" height="19"/><rect x="60" y="508" width="1" height="19"/><rect x="64" y="513" width="1" height="14"/><rect x="69" y="510" width="1" height="17"/><rect x="73" y="510" width="1" height="17"/><rect x="77" y="518" width="1" height="9"/><rect x="81" y="510" width="1" height="17"/><rect x="85" y="511" width="1" height="16"/><rect x="89" y="505" width="1" height="22"/><rect x="93" y="505" width="1" height="22"/><rect x="97" y="498" width="1" height="29"/><rect x="101" y="510" width="1" height="17"/><rect x="106" y="512" width="1" height="15"/><rect x="110" y="513" width="1" height="14"/><rect x="114" y="498" width="1" height="29"/><rect x="118" y="510" width="1" height="17"/><rect x="122" y="513" width="1" height="14"/><rect x="126" y="511" width="1" height="16"/><rect x="130" y="505" width="1" height="22"/><rect x="134" y="501" width="1" height="26"/><rect x="138" y="506" width="1" height="21"/><rect x="142" y="516" width="1" height="11"/><rect x="147" y="511" width="1" height="16"/><rect x="151" y="510" width="1" height="17"/><rect x="155" y="488" width="1" height="39"/><rect x="159" y="497" width="1" height="30"/><rect x="163" y="509" width="1" height="18"/><rect x="167" y="511" width="1" height="16"/><rect x="171" y="512" width="1" height="15"/><rect x="175" y="509" width="1" height="18"/><rect x="179" y="518" width="1" height="9"/><rect x="183" y="515" width="1" height="12"/><rect x="188" y="502" width="1" height="25"/><rect x="192" y="508" width="1" height="19"/><rect x="196" y="514" width="1" height="13"/><rect x="200" y="514" width="1" height="13"/><rect x="204" y="514" width="1" height="13"/><rect x="208" y="514" width="1" height="13"/><rect x="212" y="498" width="1" height="29"/><rect x="216" y="502" width="1" height="25"/><rect x="220" y="504" width="1" height="23"/><rect x="224" y="512" width="1" height="15"/><rect x="229" y="509" width="1" height="18"/><rect x="233" y="518" width="1" height="9"/><rect x="237" y="519" width="1" height="8"/><rect x="241" y="515" width="1" height="12"/><rect x="245" y="511" width="1" height="16"/><rect x="249" y="510" width="1" height="17"/><rect x="253" y="516" width="1" height="11"/><rect x="257" y="508" width="1" height="19"/><rect x="261" y="501" width="1" height="26"/><rect x="266" y="509" width="1" height="18"/><rect x="270" y="513" width="1" height="14"/><rect x="274" y="508" width="1" height="19"/><rect x="278" y="510" width="1" height="17"/><rect x="282" y="502" width="1" height="25"/><rect x="286" y="513" width="1" height="14"/><rect x="290" y="513" width="1" height="14"/><rect x="294" y="517" width="1" height="10"/><rect x="298" y="515" width="1" height="12"/><rect x="302" y="517" width="1" height="10"/><rect x="307" y="517" width="1" height="10"/><rect x="311" y="514" width="1" height="13"/><rect x="315" y="519" width="1" height="8"/><rect x="319" y="512" width="1" height="15"/><rect x="323" y="508" width="1" height="19"/><rect x="327" y="516" width="1" height="11"/><rect x="331" y="509" width="1" height="18"/><rect x="335" y="512" width="1" height="15"/><rect x="339" y="513" width="1" height="14"/><rect x="343" y="514" width="1" height="13"/><rect x="348" y="503" width="1" height="24"/><rect x="352" y="508" width="1" height="19"/><rect x="356" y="518" width="1" height="9"/><rect x="360" y="516" width="1" height="11"/><rect x="364" y="508" width="1" height="19"/><rect x="368" y="495" width="1" height="32"/><rect x="372" y="508" width="1" height="19"/><rect x="376" y="503" width="1" height="24"/><rect x="380" y="511" width="1" height="16"/><rect x="384" y="517" width="1" height="10"/><rect x="389" y="515" width="1" height="12"/><rect x="393" y="512" width="1" height="15"/><rect x="397" y="516" width="1" height="11"/><rect x="401" y="517" width="1" height="10"/><rect x="405" y="522" width="1" height="5"/><rect x="409" y="513" width="1" height="14"/><rect x="413" y="518" width="1" height="9"/><rect x="417" y="513" width="1" height="14"/><rect x="421" y="513" width="1" height="14"/><rect x="426" y="516" width="1" height="11"/><rect x="430" y="516" width="1" height="11"/><rect x="434" y="513" width="1" height="14"/><rect x="438" y="495" width="1" height="32"/><rect x="442" y="497" width="1" height="30"/><rect x="446" y="509" width="1" height="18"/><rect x="450" y="509" width="1" height="18"/><rect x="454" y="508" width="1" height="19"/><rect x="458" y="510" width="1" height="17"/><rect x="462" y="502" width="1" height="25"/><rect x="467" y="511" width="1" height="16"/><rect x="471" y="514" width="1" height="13"/><rect x="475" y="518" width="1" height="9"/><rect x="479" y="520" width="1" height="7"/><rect x="483" y="518" width="1" height="9"/><rect x="487" y="521" width="1" height="6"/><rect x="491" y="523" width="1" height="4"/><rect x="495" y="522" width="1" height="5"/><rect x="499" y="516" width="1" height="11"/><rect x="503" y="516" width="1" height="11"/><rect x="508" y="519" width="1" height="8"/><rect x="512" y="509" width="1" height="18"/><rect x="516" y="514" width="1" height="13"/><rect x="520" y="514" width="1" height="13"/><rect x="524" y="519" width="1" height="8"/><rect x="528" y="520" width="1" height="7"/><rect x="532" y="520" width="1" height="7"/><rect x="536" y="517" width="1" height="10"/><rect x="540" y="504" width="1" height="23"/><rect x="544" y="509" width="1" height="18"/><rect x="549" y="514" width="1" height="13"/><rect x="553" y="516" width="1" height="11"/><rect x="557" y="514" width="1" height="13"/><rect x="561" y="511" width="1" height="16"/><rect x="565" y="518" width="1" height="9"/><rect x="569" y="515" width="1" height="12"/><rect x="573" y="513" width="1" height="14"/><rect x="577" y="512" width="1" height="15"/><rect x="581" y="512" width="1" height="15"/><rect x="586" y="509" width="1" height="18"/><rect x="590" y="517" width="1" height="10"/><rect x="594" y="509" width="1" height="18"/><rect x="598" y="510" width="1" height="17"/><rect x="602" y="509" width="1" height="18"/><rect x="606" y="509" width="1" height="18"/><rect x="610" y="516" width="1" height="11"/><rect x="614" y="514" width="1" height="13"/><rect x="618" y="513" width="1" height="14"/><rect x="622" y="496" width="1" height="31"/><rect x="627" y="509" width="1" height="18"/><rect x="631" y="511" width="1" height="16"/><rect x="635" y="504" width="1" height="23"/><rect x="639" y="503" width="1" height="24"/><rect x="643" y="498" width="1" height="29"/><rect x="647" y="490" width="1" height="37"/><rect x="651" y="511" width="1" height="16"/><rect x="655" y="496" width="1" height="31"/><rect x="659" y="497" width="1" height="30"/><rect x="663" y="487" width="1" height="40"/><rect x="668" y="498" width="1" height="29"/><rect x="672" y="509" width="1" height="18"/><rect x="676" y="509" width="1" height="18"/><rect x="680" y="501" width="1" height="26"/><rect x="684" y="499" width="1" height="28"/><rect x="688" y="511" width="1" height="16"/><rect x="692" y="509" width="1" height="18"/><rect x="696" y="514" width="1" height="13"/><rect x="700" y="509" width="1" height="18"/><rect x="704" y="500" width="1" height="27"/><rect x="709" y="500" width="1" height="27"/><rect x="713" y="513" width="1" height="14"/><rect x="717" y="500" width="1" height="27"/><rect x="721" y="510" width="1" height="17"/><rect x="725" y="511" width="1" height="16"/><rect x="729" y="512" width="1" height="15"/><rect x="733" y="515" width="1" height="12"/><rect x="737" y="510" width="1" height="17"/><rect x="741" y="483" width="1" height="44"/><rect x="746" y="501" width="1" height="26"/><rect x="750" y="463" width="1" height="64"/><rect x="754" y="503" width="1" height="24"/><rect x="758" y="499" width="1" height="28"/><rect x="762" y="509" width="1" height="18"/><rect x="766" y="509" width="1" height="18"/><rect x="770" y="496" width="1" height="31"/><rect x="774" y="494" width="1" height="33"/><rect x="778" y="498" width="1" height="29"/><rect x="782" y="510" width="1" height="17"/><rect x="787" y="512" width="1" height="15"/><rect x="791" y="504" width="1" height="23"/><rect x="795" y="509" width="1" height="18"/><rect x="799" y="514" width="1" height="13"/><rect x="803" y="513" width="1" height="14"/><rect x="807" y="496" width="1" height="31"/><rect x="811" y="509" width="1" height="18"/><rect x="815" y="511" width="1" height="16"/><rect x="819" y="505" width="1" height="22"/><rect x="823" y="509" width="1" height="18"/><rect x="828" y="499" width="1" height="28"/><rect x="832" y="502" width="1" height="25"/><rect x="836" y="505" width="1" height="22"/><rect x="840" y="496" width="1" height="31"/><rect x="844" y="509" width="1" height="18"/><rect x="848" y="500" width="1" height="27"/><rect x="852" y="507" width="1" height="20"/><rect x="856" y="511" width="1" height="16"/><rect x="860" y="516" width="1" height="11"/><rect x="864" y="521" width="1" height="6"/><rect x="869" y="514" width="1" height="13"/><rect x="873" y="507" width="1" height="20"/><rect x="877" y="509" width="1" height="18"/><rect x="881" y="504" width="1" height="23"/><rect x="885" y="507" width="1" height="20"/><rect x="889" y="512" width="1" height="15"/><rect x="893" y="512" width="1" height="15"/><rect x="897" y="504" width="1" height="23"/><rect x="901" y="509" width="1" height="18"/><rect x="905" y="509" width="1" height="18"/><rect x="910" y="509" width="1" height="18"/><rect x="914" y="512" width="1" height="15"/><rect x="918" y="505" width="1" height="22"/><rect x="922" y="509" width="1" height="18"/><rect x="926" y="501" width="1" height="26"/><rect x="930" y="500" width="1" height="27"/><rect x="934" y="501" width="1" height="26"/><rect x="938" y="480" width="1" height="47"/><rect x="942" y="489" width="1" height="38"/><rect x="947" y="487" width="1" height="40"/><rect x="951" y="498" width="1" height="29"/><rect x="955" y="502" width="1" height="25"/><rect x="959" y="499" width="1" height="28"/><rect x="963" y="513" width="1" height="14"/><rect x="967" y="506" width="1" height="21"/><rect x="971" y="498" width="1" height="29"/><rect x="975" y="499" width="1" height="28"/><rect x="979" y="505" width="1" height="22"/><rect x="983" y="498" width="1" height="29"/><rect x="988" y="504" width="1" height="23"/><rect x="992" y="504" width="1" height="23"/><rect x="996" y="506" width="1" height="21"/><rect x="1000" y="506" width="1" height="21"/><rect x="1004" y="504" width="1" height="23"/><rect x="1008" y="493" width="1" height="34"/><rect x="1012" y="499" width="1" height="28"/><rect x="1016" y="506" width="1" height="21"/><rect x="1020" y="504" width="1" height="23"/><rect x="1024" y="503" width="1" height="24"/><rect x="1029" y="501" width="1" height="26"/><rect x="1033" y="502" width="1" height="25"/><rect x="1037" y="514" width="1" height="13"/></g>
<rect x="5" y="527" width="1282" height="1" fill="#0000ff"/>
<g fill="#008000"><rect x="7" y="497" width="25" height="1"/><rect x="32" y="498" width="17" height="1"/><rect x="49" y="499" width="3" height="1"/><rect x="52" y="500" width="22" height="1"/><rect x="74" y="501" width="1" height="1"/><rect x="75" y="502" width="2" height="1"/><rect x="77" y="503" width="24" height="1"/><rect x="101" y="504" width="11" height="1"/><rect x="112" y="505" width="10" height="1"/><rect x="122" y="506" width="2" height="1"/><rect x="124" y="507" width="15" height="1"/><rect x="139" y="508" width="3" height="1"/><rect x="142" y="509" width="13" height="1"/><rect x="155" y="508" width="1" height="1"/><rect x="156" y="507" width="19" height="1"/><rect x="175" y="508" width="53" height="1"/><rect x="228" y="509" width="23" height="1"/><rect x="251" y="510" width="44" height="1"/><rect x="295" y="511" width="57" height="1"/><rect x="352" y="510" width="21" height="1"/><rect x="373" y="509" width="7" height="1"/><rect x="380" y="510" width="8" height="1"/><rect x="388" y="511" width="51" height="1"/><rect x="439" y="510" width="16" height="1"/><rect x="455" y="509" width="6" height="1"/><rect x="461" y="510" width="17" height="1"/><rect x="478" y="511" width="12" height="1"/><rect x="490" y="512" width="72" height="1"/><rect x="562" y="513" width="3" height="1"/><rect x="565" y="512" width="8" height="1"/><rect x="573" y="513" width="2" height="1"/><rect x="575" y="514" width="27" height="1"/><rect x="602" y="513" width="13" height="1"/><rect x="615" y="512" width="8" height="1"/><rect x="623" y="511" width="11" height="1"/><rect x="634" y="510" width="10" height="1"/><rect x="644" y="509" width="5" height="1"/><rect x="649" y="508" width="8" height="1"/><rect x="657" y="507" width="9" height="1"/><rect x="666" y="506" width="8" height="1"/><rect x="674" y="505" width="29" height="1"/><rect x="703" y="504" width="13" height="1"/><rect x="716" y="503" width="6" height="1"/><rect x="722" y="504" width="18" height="1"/><rect x="740" y="503" width="8" height="1"/><rect x="748" y="502" width="1" height="1"/><rect x="749" y="501" width="36" height="1"/><rect x="785" y="502" width="12" height="1"/><rect x="797" y="503" width="35" height="1"/><rect x="832" y="502" width="30" height="1"/><rect x="862" y="503" width="2" height="1"/><rect x="864" y="504" width="4" height="1"/><rect x="868" y="505" width="22" height="1"/><rect x="890" y="506" width="42" height="1"/><rect x="932" y="505" width="12" height="1"/><rect x="944" y="504" width="34" height="1"/><rect x="978" y="503" width="8" height="1"/><rect x="986" y="502" width="5" height="1"/><rect x="991" y="501" width="15" height="1"/><rect x="1006" y="500" width="31" height="1"/></g>
<g fill="#00b4e6"><rect x="7" y="498" width="25" height="1"/><rect x="32" y="499" width="17" height="1"/><rect x="49" y="500" width="3" height="1"/><rect x="52" y="501" width="22" height="1"/><rect x="74" y="502" width="1" height="1"/><rect x="75" y="503" width="2" height="1"/><rect x="77" y="504" width="24" height="1"/><rect x="101" y="505" width="11" height="1"/><rect x="112" y="506" width="10" height="1"/><rect x="122" y="507" width="2" height="1"/><rect x="124" y="508" width="15" height="1"/><rect x="139" y="509" width="3" height="1"/><rect x="142" y="510" width="13" height="1"/><rect x="155" y="509" width="1" height="1"/><rect x="156" y="508" width="19" height="1"/><rect x="175" y="509" width="53" height="1"/><rect x="228" y="510" width="23" height="1"/><rect x="251" y="511" width="44" height="1"/><rect x="295" y="512" width="57" height="1"/><rect x="352" y="511" width="21" height="1"/><rect x="373" y="510" width="7" height="1"/><rect x="380" y="511" width="8" height="1"/><rect x="388" y="512" width="51" height="1"/><rect x="439" y="511" width="16" height="1"/><rect x="455" y="510" width="6" height="1"/><rect x="461" y="511" width="17" height="1"/><rect x="478" y="512" width="12" height="1"/><rect x="490" y="513" width="72" height="1"/><rect x="562" y="514" width="3" height="1"/><rect x="565" y="513" width="8" height="1"/><rect x="573" y="514" width="2" height="1"/><rect x="575" y="515" width="27" height="1"/><rect x="602" y="514" width="13" height="1"/><rect x="615" y="513" width="8" height="1"/><rect x="623" y="512" width="11" height="1"/><rect x="634" y="511" width="10" height="1"/><rect x="644" y="510" width="5" height="1"/><rect x="649" y="509" width="8" height="1"/><rect x="657" y="508" width="9" height="1"/><rect x="666" y="507" width="8" height="1"/><rect x="674" y="506" width="29" height="1"/><rect x="703" y="505" width="13" height="1"/><rect x="716" y="504" width="6" height="1"/><rect x="722" y="505" width="18" height="1"/><rect x="740" y="504" width="8" height="1"/><rect x="748" y="503" width="1" height="1"/><rect x="749" y="502" width="36" height="1"/><rect x="785" y="503" width="12" height="1"/><rect x="797" y="504" width="35" height="1"/><rect x="832" y="503" width="30" height="1"/><rect x="862" y="504" width="2" height="1"/><rect x="864" y="505" width="4" height="1"/><rect x="868" y="506" width="22" height="1"/><rect x="890" y="507" width="42" height="1"/><rect x="932" y="506" width="12" height="1"/><rect x="944" y="505" width="34" height="1"/><rect x="978" y="504" width="8" height="1"/><rect x="986" y="503" width="5" height="1"/><rect x="991" y="502" width="15" height="1"/><rect x="1006" y="501" width="31" height="1"/></g>
<g fill="#ff0000"><rect x="7" y="506" width="529" height="2"/><rect x="536" y="507" width="271" height="2"/><rect x="807" y="508" width="135" height="2"/><rect x="942" y="507" width="95" height="2"/></g>
<text x="1115.50" y="505.5" font-family="Liberation Mono" font-size="15" font-weight="bold" fill="#008000" textLength="119.00" lengthAdjust="spacingAndGlyphs" style="white-space:pre" >MMS (20, volumen)</text>
<text x="1099.00" y="520.5" font-family="Liberation Mono" font-size="15" font-weight="bold" fill="#ff0000" textLength="126.00" lengthAdjust="spacingAndGlyphs" style="white-space:pre" >MMS (200, volumen)</text>
<rect x="1290" y="459" width="68" height="1" fill="#0000ff"/>
<rect x="1290" y="459" width="1" height="77" fill="#0000ff"/>
<rect x="1291" y="466" width="6" height="1" fill="#0000ff"/>
<rect x="1291" y="497" width="6" height="1" fill="#0000ff"/>
<rect x="1291" y="527" width="6" height="1" fill="#0000ff"/>
<rect x="1291" y="476" width="3" height="1" fill="#0000ff"/>
<rect x="1291" y="486" width="3" height="1" fill="#0000ff"/>
<rect x="1291" y="507" width="3" height="1" fill="#0000ff"/>
<rect x="1291" y="517" width="3" height="1" fill="#0000ff"/>
<text x="1301.80" y="470" font-family="Liberation Mono" font-size="15" font-weight="bold" fill="#0000ff" textLength="42.00" lengthAdjust="spacingAndGlyphs" style="white-space:pre" >20.000</text>
<text x="1301.80" y="501" font-family="Liberation Mono" font-size="15" font-weight="bold" fill="#0000ff" textLength="42.00" lengthAdjust="spacingAndGlyphs" style="white-space:pre" >10.000</text>
<text x="1301.80" y="531" font-family="Liberation Mono" font-size="15" font-weight="bold" fill="#0000ff" textLength="7.00" lengthAdjust="spacingAndGlyphs" style="white-space:pre" >0</text>
<rect x="1334.5" y="524.5" width="30" height="12" fill="#ffffff" stroke="#0000ff" stroke-width="1"/>
<text x="1336" y="534" font-family="Liberation Mono" font-size="9" font-weight="normal" fill="#0000ff" textLength="21" lengthAdjust="spacingAndGlyphs" >x1000</text>
<rect x="0" y="536" width="1358" height="1" fill="#404040"/>
<text x="881.10" y="532.5" font-family="Liberation Mono" font-size="14.5" font-weight="normal" fill="#303030" textLength="23.72" lengthAdjust="spacingAndGlyphs" style="white-space:pre" >2015</text>
<rect x="879" y="526" width="1" height="11" fill="#404040"/>
<clipPath id="cdate"><rect x="0" y="536" width="1286" height="20"/></clipPath>
<rect x="5" y="537" width="1" height="8" fill="#404040"/>
<text x="7.30" y="551" font-family="Liberation Mono" font-size="15" font-weight="normal" fill="#202020" textLength="53.37" lengthAdjust="spacingAndGlyphs" style="white-space:pre" clip-path="url(#cdate)">01-Mar-14</text>
<rect x="93" y="537" width="1" height="8" fill="#404040"/>
<text x="95.30" y="551" font-family="Liberation Mono" font-size="15" font-weight="normal" fill="#202020" textLength="53.37" lengthAdjust="spacingAndGlyphs" style="white-space:pre" clip-path="url(#cdate)">01-Abr-14</text>
<rect x="173" y="537" width="1" height="8" fill="#404040"/>
<text x="175.30" y="551" font-family="Liberation Mono" font-size="15" font-weight="normal" fill="#202020" textLength="53.37" lengthAdjust="spacingAndGlyphs" style="white-space:pre" clip-path="url(#cdate)">01-May-14</text>
<rect x="260" y="537" width="1" height="8" fill="#404040"/>
<text x="262.30" y="551" font-family="Liberation Mono" font-size="15" font-weight="normal" fill="#202020" textLength="53.37" lengthAdjust="spacingAndGlyphs" style="white-space:pre" clip-path="url(#cdate)">01-Jun-14</text>
<rect x="348" y="537" width="1" height="8" fill="#404040"/>
<text x="350.30" y="551" font-family="Liberation Mono" font-size="15" font-weight="normal" fill="#202020" textLength="53.37" lengthAdjust="spacingAndGlyphs" style="white-space:pre" clip-path="url(#cdate)">01-Jul-14</text>
<rect x="442" y="537" width="1" height="8" fill="#404040"/>
<text x="444.30" y="551" font-family="Liberation Mono" font-size="15" font-weight="normal" fill="#202020" textLength="53.37" lengthAdjust="spacingAndGlyphs" style="white-space:pre" clip-path="url(#cdate)">01-Ago-14</text>
<rect x="528" y="537" width="1" height="8" fill="#404040"/>
<text x="530.30" y="551" font-family="Liberation Mono" font-size="15" font-weight="normal" fill="#202020" textLength="53.37" lengthAdjust="spacingAndGlyphs" style="white-space:pre" clip-path="url(#cdate)">01-Sep-14</text>
<rect x="618" y="537" width="1" height="8" fill="#404040"/>
<text x="620.30" y="551" font-family="Liberation Mono" font-size="15" font-weight="normal" fill="#202020" textLength="53.37" lengthAdjust="spacingAndGlyphs" style="white-space:pre" clip-path="url(#cdate)">01-Oct-14</text>
<rect x="711" y="537" width="1" height="8" fill="#404040"/>
<text x="713.30" y="551" font-family="Liberation Mono" font-size="15" font-weight="normal" fill="#202020" textLength="53.37" lengthAdjust="spacingAndGlyphs" style="white-space:pre" clip-path="url(#cdate)">01-Nov-14</text>
<rect x="795" y="537" width="1" height="8" fill="#404040"/>
<text x="797.30" y="551" font-family="Liberation Mono" font-size="15" font-weight="normal" fill="#202020" textLength="53.37" lengthAdjust="spacingAndGlyphs" style="white-space:pre" clip-path="url(#cdate)">01-Dic-14</text>
<rect x="879" y="537" width="1" height="8" fill="#404040"/>
<text x="881.30" y="551" font-family="Liberation Mono" font-size="15" font-weight="normal" fill="#202020" textLength="53.37" lengthAdjust="spacingAndGlyphs" style="white-space:pre" clip-path="url(#cdate)">01-Ene-15</text>
<rect x="966" y="537" width="1" height="8" fill="#404040"/>
<text x="968.30" y="551" font-family="Liberation Mono" font-size="15" font-weight="normal" fill="#202020" textLength="53.37" lengthAdjust="spacingAndGlyphs" style="white-space:pre" clip-path="url(#cdate)">01-Feb-15</text>
<rect x="1048" y="537" width="1" height="8" fill="#404040"/>
<text x="1050.30" y="551" font-family="Liberation Mono" font-size="15" font-weight="normal" fill="#202020" textLength="53.37" lengthAdjust="spacingAndGlyphs" style="white-space:pre" clip-path="url(#cdate)">01-Mar-15</text>
<rect x="1139" y="537" width="1" height="8" fill="#404040"/>
<text x="1141.30" y="551" font-family="Liberation Mono" font-size="15" font-weight="normal" fill="#202020" textLength="53.37" lengthAdjust="spacingAndGlyphs" style="white-space:pre" clip-path="url(#cdate)">01-Abr-15</text>
<rect x="1230" y="537" width="1" height="8" fill="#404040"/>
<text x="1232.30" y="551" font-family="Liberation Mono" font-size="15" font-weight="normal" fill="#202020" textLength="53.37" lengthAdjust="spacingAndGlyphs" style="white-space:pre" clip-path="url(#cdate)">01-May-15</text>
<text x="2.80" y="11" font-family="Liberation Mono" font-size="12" font-weight="normal" fill="#0000ff" textLength="480.33" lengthAdjust="spacingAndGlyphs" style="white-space:pre" >SCYR,MC - SACYR -  1 d Dif, %: -1,64 Dif,: -0,067 M: 4,100 m: 4,020 F: 25-02-2015</text>
<text x="489.06" y="11" font-family="Liberation Mono" font-size="12" font-weight="normal" fill="#ff0000" textLength="53.37" lengthAdjust="spacingAndGlyphs" style="white-space:pre" >P : 5,234</text>


</svg>
</body></html>
